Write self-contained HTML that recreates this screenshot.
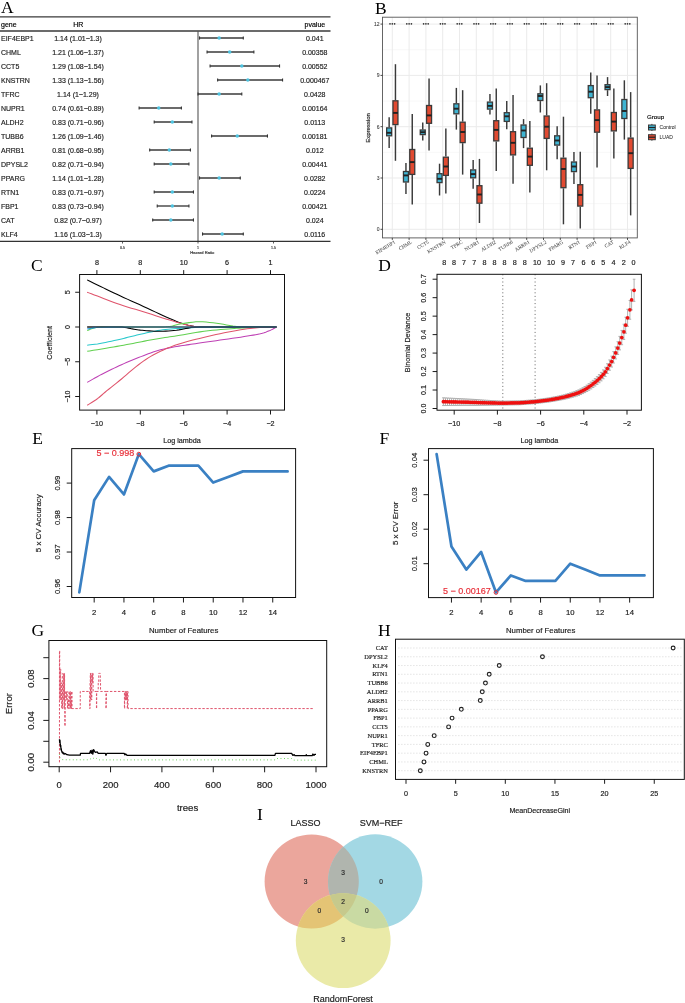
<!DOCTYPE html>
<html><head><meta charset="utf-8"><style>
html,body{margin:0;padding:0;background:#fff;}
body{width:685px;height:1003px;overflow:hidden;font-family:"Liberation Sans", sans-serif;}
svg{display:block;will-change:transform;}
</style></head><body>
<svg width="685" height="1003" viewBox="0 0 685 1003">
<rect width="685" height="1003" fill="#fff"/>
<text x="1.00" y="12.70" font-size="17.5" text-anchor="start" fill="#000" font-family='"Liberation Serif", serif'>A</text>
<line x1="0.00" y1="16.90" x2="330.50" y2="16.90" stroke="#3a3a3a" stroke-width="1.4"/>
<line x1="0.00" y1="31.00" x2="330.50" y2="31.00" stroke="#3a3a3a" stroke-width="1.4"/>
<text x="1.00" y="26.60" font-size="7" text-anchor="start" fill="#000" stroke="#000" stroke-width="0.16" font-family='"Liberation Sans", sans-serif'>gene</text>
<text x="78.20" y="26.60" font-size="7" text-anchor="middle" fill="#000" stroke="#000" stroke-width="0.16" font-family='"Liberation Sans", sans-serif'>HR</text>
<text x="314.90" y="26.60" font-size="7" text-anchor="middle" fill="#000" stroke="#000" stroke-width="0.16" font-family='"Liberation Sans", sans-serif'>pvalue</text>
<line x1="198.00" y1="31.00" x2="198.00" y2="241.30" stroke="#555" stroke-width="1.1"/>
<text x="1.00" y="40.90" font-size="7" text-anchor="start" fill="#222" stroke="#222" stroke-width="0.16" font-family='"Liberation Sans", sans-serif'>EIF4EBP1</text>
<text x="78.00" y="40.90" font-size="7" text-anchor="middle" fill="#222" stroke="#222" stroke-width="0.16" font-family='"Liberation Sans", sans-serif'>1.14 (1.01−1.3)</text>
<text x="314.80" y="40.90" font-size="7" text-anchor="middle" fill="#222" stroke="#222" stroke-width="0.16" font-family='"Liberation Sans", sans-serif'>0.041</text>
<line x1="199.51" y1="38.00" x2="243.30" y2="38.00" stroke="#3a3a3a" stroke-width="1.35"/>
<line x1="199.51" y1="36.40" x2="199.51" y2="39.60" stroke="#333" stroke-width="1.1"/>
<line x1="243.30" y1="36.40" x2="243.30" y2="39.60" stroke="#333" stroke-width="1.1"/>
<circle cx="219.14" cy="38.00" r="1.75" fill="#4ec3e0"/>
<text x="1.00" y="54.90" font-size="7" text-anchor="start" fill="#222" stroke="#222" stroke-width="0.16" font-family='"Liberation Sans", sans-serif'>CHML</text>
<text x="78.00" y="54.90" font-size="7" text-anchor="middle" fill="#222" stroke="#222" stroke-width="0.16" font-family='"Liberation Sans", sans-serif'>1.21 (1.06−1.37)</text>
<text x="314.80" y="54.90" font-size="7" text-anchor="middle" fill="#222" stroke="#222" stroke-width="0.16" font-family='"Liberation Sans", sans-serif'>0.00358</text>
<line x1="207.06" y1="52.00" x2="253.87" y2="52.00" stroke="#3a3a3a" stroke-width="1.35"/>
<line x1="207.06" y1="50.40" x2="207.06" y2="53.60" stroke="#333" stroke-width="1.1"/>
<line x1="253.87" y1="50.40" x2="253.87" y2="53.60" stroke="#333" stroke-width="1.1"/>
<circle cx="229.71" cy="52.00" r="1.75" fill="#4ec3e0"/>
<text x="1.00" y="68.90" font-size="7" text-anchor="start" fill="#222" stroke="#222" stroke-width="0.16" font-family='"Liberation Sans", sans-serif'>CCT5</text>
<text x="78.00" y="68.90" font-size="7" text-anchor="middle" fill="#222" stroke="#222" stroke-width="0.16" font-family='"Liberation Sans", sans-serif'>1.29 (1.08−1.54)</text>
<text x="314.80" y="68.90" font-size="7" text-anchor="middle" fill="#222" stroke="#222" stroke-width="0.16" font-family='"Liberation Sans", sans-serif'>0.00552</text>
<line x1="210.08" y1="66.00" x2="279.54" y2="66.00" stroke="#3a3a3a" stroke-width="1.35"/>
<line x1="210.08" y1="64.40" x2="210.08" y2="67.60" stroke="#333" stroke-width="1.1"/>
<line x1="279.54" y1="64.40" x2="279.54" y2="67.60" stroke="#333" stroke-width="1.1"/>
<circle cx="241.79" cy="66.00" r="1.75" fill="#4ec3e0"/>
<text x="1.00" y="82.90" font-size="7" text-anchor="start" fill="#222" stroke="#222" stroke-width="0.16" font-family='"Liberation Sans", sans-serif'>KNSTRN</text>
<text x="78.00" y="82.90" font-size="7" text-anchor="middle" fill="#222" stroke="#222" stroke-width="0.16" font-family='"Liberation Sans", sans-serif'>1.33 (1.13−1.56)</text>
<text x="314.80" y="82.90" font-size="7" text-anchor="middle" fill="#222" stroke="#222" stroke-width="0.16" font-family='"Liberation Sans", sans-serif'>0.000467</text>
<line x1="217.63" y1="80.00" x2="282.56" y2="80.00" stroke="#3a3a3a" stroke-width="1.35"/>
<line x1="217.63" y1="78.40" x2="217.63" y2="81.60" stroke="#333" stroke-width="1.1"/>
<line x1="282.56" y1="78.40" x2="282.56" y2="81.60" stroke="#333" stroke-width="1.1"/>
<circle cx="247.83" cy="80.00" r="1.75" fill="#4ec3e0"/>
<text x="1.00" y="96.90" font-size="7" text-anchor="start" fill="#222" stroke="#222" stroke-width="0.16" font-family='"Liberation Sans", sans-serif'>TFRC</text>
<text x="78.00" y="96.90" font-size="7" text-anchor="middle" fill="#222" stroke="#222" stroke-width="0.16" font-family='"Liberation Sans", sans-serif'>1.14 (1−1.29)</text>
<text x="314.80" y="96.90" font-size="7" text-anchor="middle" fill="#222" stroke="#222" stroke-width="0.16" font-family='"Liberation Sans", sans-serif'>0.0428</text>
<line x1="198.00" y1="94.00" x2="241.79" y2="94.00" stroke="#3a3a3a" stroke-width="1.35"/>
<line x1="198.00" y1="92.40" x2="198.00" y2="95.60" stroke="#333" stroke-width="1.1"/>
<line x1="241.79" y1="92.40" x2="241.79" y2="95.60" stroke="#333" stroke-width="1.1"/>
<circle cx="219.14" cy="94.00" r="1.75" fill="#4ec3e0"/>
<text x="1.00" y="110.90" font-size="7" text-anchor="start" fill="#222" stroke="#222" stroke-width="0.16" font-family='"Liberation Sans", sans-serif'>NUPR1</text>
<text x="78.00" y="110.90" font-size="7" text-anchor="middle" fill="#222" stroke="#222" stroke-width="0.16" font-family='"Liberation Sans", sans-serif'>0.74 (0.61−0.89)</text>
<text x="314.80" y="110.90" font-size="7" text-anchor="middle" fill="#222" stroke="#222" stroke-width="0.16" font-family='"Liberation Sans", sans-serif'>0.00164</text>
<line x1="139.11" y1="108.00" x2="181.39" y2="108.00" stroke="#3a3a3a" stroke-width="1.35"/>
<line x1="139.11" y1="106.40" x2="139.11" y2="109.60" stroke="#333" stroke-width="1.1"/>
<line x1="181.39" y1="106.40" x2="181.39" y2="109.60" stroke="#333" stroke-width="1.1"/>
<circle cx="158.74" cy="108.00" r="1.75" fill="#4ec3e0"/>
<text x="1.00" y="124.90" font-size="7" text-anchor="start" fill="#222" stroke="#222" stroke-width="0.16" font-family='"Liberation Sans", sans-serif'>ALDH2</text>
<text x="78.00" y="124.90" font-size="7" text-anchor="middle" fill="#222" stroke="#222" stroke-width="0.16" font-family='"Liberation Sans", sans-serif'>0.83 (0.71−0.96)</text>
<text x="314.80" y="124.90" font-size="7" text-anchor="middle" fill="#222" stroke="#222" stroke-width="0.16" font-family='"Liberation Sans", sans-serif'>0.0113</text>
<line x1="154.21" y1="122.00" x2="191.96" y2="122.00" stroke="#3a3a3a" stroke-width="1.35"/>
<line x1="154.21" y1="120.40" x2="154.21" y2="123.60" stroke="#333" stroke-width="1.1"/>
<line x1="191.96" y1="120.40" x2="191.96" y2="123.60" stroke="#333" stroke-width="1.1"/>
<circle cx="172.33" cy="122.00" r="1.75" fill="#4ec3e0"/>
<text x="1.00" y="138.90" font-size="7" text-anchor="start" fill="#222" stroke="#222" stroke-width="0.16" font-family='"Liberation Sans", sans-serif'>TUBB6</text>
<text x="78.00" y="138.90" font-size="7" text-anchor="middle" fill="#222" stroke="#222" stroke-width="0.16" font-family='"Liberation Sans", sans-serif'>1.26 (1.09−1.46)</text>
<text x="314.80" y="138.90" font-size="7" text-anchor="middle" fill="#222" stroke="#222" stroke-width="0.16" font-family='"Liberation Sans", sans-serif'>0.00181</text>
<line x1="211.59" y1="136.00" x2="267.46" y2="136.00" stroke="#3a3a3a" stroke-width="1.35"/>
<line x1="211.59" y1="134.40" x2="211.59" y2="137.60" stroke="#333" stroke-width="1.1"/>
<line x1="267.46" y1="134.40" x2="267.46" y2="137.60" stroke="#333" stroke-width="1.1"/>
<circle cx="237.26" cy="136.00" r="1.75" fill="#4ec3e0"/>
<text x="1.00" y="152.90" font-size="7" text-anchor="start" fill="#222" stroke="#222" stroke-width="0.16" font-family='"Liberation Sans", sans-serif'>ARRB1</text>
<text x="78.00" y="152.90" font-size="7" text-anchor="middle" fill="#222" stroke="#222" stroke-width="0.16" font-family='"Liberation Sans", sans-serif'>0.81 (0.68−0.95)</text>
<text x="314.80" y="152.90" font-size="7" text-anchor="middle" fill="#222" stroke="#222" stroke-width="0.16" font-family='"Liberation Sans", sans-serif'>0.012</text>
<line x1="149.68" y1="150.00" x2="190.45" y2="150.00" stroke="#3a3a3a" stroke-width="1.35"/>
<line x1="149.68" y1="148.40" x2="149.68" y2="151.60" stroke="#333" stroke-width="1.1"/>
<line x1="190.45" y1="148.40" x2="190.45" y2="151.60" stroke="#333" stroke-width="1.1"/>
<circle cx="169.31" cy="150.00" r="1.75" fill="#4ec3e0"/>
<text x="1.00" y="166.90" font-size="7" text-anchor="start" fill="#222" stroke="#222" stroke-width="0.16" font-family='"Liberation Sans", sans-serif'>DPYSL2</text>
<text x="78.00" y="166.90" font-size="7" text-anchor="middle" fill="#222" stroke="#222" stroke-width="0.16" font-family='"Liberation Sans", sans-serif'>0.82 (0.71−0.94)</text>
<text x="314.80" y="166.90" font-size="7" text-anchor="middle" fill="#222" stroke="#222" stroke-width="0.16" font-family='"Liberation Sans", sans-serif'>0.00441</text>
<line x1="154.21" y1="164.00" x2="188.94" y2="164.00" stroke="#3a3a3a" stroke-width="1.35"/>
<line x1="154.21" y1="162.40" x2="154.21" y2="165.60" stroke="#333" stroke-width="1.1"/>
<line x1="188.94" y1="162.40" x2="188.94" y2="165.60" stroke="#333" stroke-width="1.1"/>
<circle cx="170.82" cy="164.00" r="1.75" fill="#4ec3e0"/>
<text x="1.00" y="180.90" font-size="7" text-anchor="start" fill="#222" stroke="#222" stroke-width="0.16" font-family='"Liberation Sans", sans-serif'>PPARG</text>
<text x="78.00" y="180.90" font-size="7" text-anchor="middle" fill="#222" stroke="#222" stroke-width="0.16" font-family='"Liberation Sans", sans-serif'>1.14 (1.01−1.28)</text>
<text x="314.80" y="180.90" font-size="7" text-anchor="middle" fill="#222" stroke="#222" stroke-width="0.16" font-family='"Liberation Sans", sans-serif'>0.0282</text>
<line x1="199.51" y1="178.00" x2="240.28" y2="178.00" stroke="#3a3a3a" stroke-width="1.35"/>
<line x1="199.51" y1="176.40" x2="199.51" y2="179.60" stroke="#333" stroke-width="1.1"/>
<line x1="240.28" y1="176.40" x2="240.28" y2="179.60" stroke="#333" stroke-width="1.1"/>
<circle cx="219.14" cy="178.00" r="1.75" fill="#4ec3e0"/>
<text x="1.00" y="194.90" font-size="7" text-anchor="start" fill="#222" stroke="#222" stroke-width="0.16" font-family='"Liberation Sans", sans-serif'>RTN1</text>
<text x="78.00" y="194.90" font-size="7" text-anchor="middle" fill="#222" stroke="#222" stroke-width="0.16" font-family='"Liberation Sans", sans-serif'>0.83 (0.71−0.97)</text>
<text x="314.80" y="194.90" font-size="7" text-anchor="middle" fill="#222" stroke="#222" stroke-width="0.16" font-family='"Liberation Sans", sans-serif'>0.0224</text>
<line x1="154.21" y1="192.00" x2="193.47" y2="192.00" stroke="#3a3a3a" stroke-width="1.35"/>
<line x1="154.21" y1="190.40" x2="154.21" y2="193.60" stroke="#333" stroke-width="1.1"/>
<line x1="193.47" y1="190.40" x2="193.47" y2="193.60" stroke="#333" stroke-width="1.1"/>
<circle cx="172.33" cy="192.00" r="1.75" fill="#4ec3e0"/>
<text x="1.00" y="208.90" font-size="7" text-anchor="start" fill="#222" stroke="#222" stroke-width="0.16" font-family='"Liberation Sans", sans-serif'>FBP1</text>
<text x="78.00" y="208.90" font-size="7" text-anchor="middle" fill="#222" stroke="#222" stroke-width="0.16" font-family='"Liberation Sans", sans-serif'>0.83 (0.73−0.94)</text>
<text x="314.80" y="208.90" font-size="7" text-anchor="middle" fill="#222" stroke="#222" stroke-width="0.16" font-family='"Liberation Sans", sans-serif'>0.00421</text>
<line x1="157.23" y1="206.00" x2="188.94" y2="206.00" stroke="#3a3a3a" stroke-width="1.35"/>
<line x1="157.23" y1="204.40" x2="157.23" y2="207.60" stroke="#333" stroke-width="1.1"/>
<line x1="188.94" y1="204.40" x2="188.94" y2="207.60" stroke="#333" stroke-width="1.1"/>
<circle cx="172.33" cy="206.00" r="1.75" fill="#4ec3e0"/>
<text x="1.00" y="222.90" font-size="7" text-anchor="start" fill="#222" stroke="#222" stroke-width="0.16" font-family='"Liberation Sans", sans-serif'>CAT</text>
<text x="78.00" y="222.90" font-size="7" text-anchor="middle" fill="#222" stroke="#222" stroke-width="0.16" font-family='"Liberation Sans", sans-serif'>0.82 (0.7−0.97)</text>
<text x="314.80" y="222.90" font-size="7" text-anchor="middle" fill="#222" stroke="#222" stroke-width="0.16" font-family='"Liberation Sans", sans-serif'>0.024</text>
<line x1="152.70" y1="220.00" x2="193.47" y2="220.00" stroke="#3a3a3a" stroke-width="1.35"/>
<line x1="152.70" y1="218.40" x2="152.70" y2="221.60" stroke="#333" stroke-width="1.1"/>
<line x1="193.47" y1="218.40" x2="193.47" y2="221.60" stroke="#333" stroke-width="1.1"/>
<circle cx="170.82" cy="220.00" r="1.75" fill="#4ec3e0"/>
<text x="1.00" y="236.90" font-size="7" text-anchor="start" fill="#222" stroke="#222" stroke-width="0.16" font-family='"Liberation Sans", sans-serif'>KLF4</text>
<text x="78.00" y="236.90" font-size="7" text-anchor="middle" fill="#222" stroke="#222" stroke-width="0.16" font-family='"Liberation Sans", sans-serif'>1.16 (1.03−1.3)</text>
<text x="314.80" y="236.90" font-size="7" text-anchor="middle" fill="#222" stroke="#222" stroke-width="0.16" font-family='"Liberation Sans", sans-serif'>0.0116</text>
<line x1="202.53" y1="234.00" x2="243.30" y2="234.00" stroke="#3a3a3a" stroke-width="1.35"/>
<line x1="202.53" y1="232.40" x2="202.53" y2="235.60" stroke="#333" stroke-width="1.1"/>
<line x1="243.30" y1="232.40" x2="243.30" y2="235.60" stroke="#333" stroke-width="1.1"/>
<circle cx="222.16" cy="234.00" r="1.75" fill="#4ec3e0"/>
<line x1="0.00" y1="241.30" x2="330.50" y2="241.30" stroke="#333" stroke-width="1.3"/>
<line x1="122.50" y1="241.30" x2="122.50" y2="243.50" stroke="#333" stroke-width="0.8"/>
<text x="122.50" y="249.00" font-size="3.6" text-anchor="middle" fill="#444" stroke="#444" stroke-width="0.18" font-family='"Liberation Sans", sans-serif'>0.5</text>
<line x1="198.00" y1="241.30" x2="198.00" y2="243.50" stroke="#333" stroke-width="0.8"/>
<text x="198.00" y="249.00" font-size="3.6" text-anchor="middle" fill="#444" stroke="#444" stroke-width="0.18" font-family='"Liberation Sans", sans-serif'>1</text>
<line x1="273.50" y1="241.30" x2="273.50" y2="243.50" stroke="#333" stroke-width="0.8"/>
<text x="273.50" y="249.00" font-size="3.6" text-anchor="middle" fill="#444" stroke="#444" stroke-width="0.18" font-family='"Liberation Sans", sans-serif'>1.5</text>
<text x="202.30" y="253.90" font-size="4.1" text-anchor="middle" fill="#333" stroke="#333" stroke-width="0.18" font-family='"Liberation Sans", sans-serif'>Hazard Ratio</text>
<text x="375.00" y="13.80" font-size="17.5" text-anchor="start" fill="#000" font-family='"Liberation Serif", serif'>B</text>
<line x1="382.50" y1="203.65" x2="637.30" y2="203.65" stroke="#f2f2f2" stroke-width="0.6"/>
<line x1="382.50" y1="152.35" x2="637.30" y2="152.35" stroke="#f2f2f2" stroke-width="0.6"/>
<line x1="382.50" y1="101.05" x2="637.30" y2="101.05" stroke="#f2f2f2" stroke-width="0.6"/>
<line x1="382.50" y1="49.75" x2="637.30" y2="49.75" stroke="#f2f2f2" stroke-width="0.6"/>
<line x1="382.50" y1="229.30" x2="637.30" y2="229.30" stroke="#ebebeb" stroke-width="1.0"/>
<line x1="382.50" y1="178.00" x2="637.30" y2="178.00" stroke="#ebebeb" stroke-width="1.0"/>
<line x1="382.50" y1="126.70" x2="637.30" y2="126.70" stroke="#ebebeb" stroke-width="1.0"/>
<line x1="382.50" y1="75.40" x2="637.30" y2="75.40" stroke="#ebebeb" stroke-width="1.0"/>
<line x1="382.50" y1="24.10" x2="637.30" y2="24.10" stroke="#ebebeb" stroke-width="1.0"/>
<line x1="392.30" y1="17.20" x2="392.30" y2="237.90" stroke="#ebebeb" stroke-width="1.0"/>
<line x1="409.10" y1="17.20" x2="409.10" y2="237.90" stroke="#ebebeb" stroke-width="1.0"/>
<line x1="425.90" y1="17.20" x2="425.90" y2="237.90" stroke="#ebebeb" stroke-width="1.0"/>
<line x1="442.70" y1="17.20" x2="442.70" y2="237.90" stroke="#ebebeb" stroke-width="1.0"/>
<line x1="459.50" y1="17.20" x2="459.50" y2="237.90" stroke="#ebebeb" stroke-width="1.0"/>
<line x1="476.30" y1="17.20" x2="476.30" y2="237.90" stroke="#ebebeb" stroke-width="1.0"/>
<line x1="493.10" y1="17.20" x2="493.10" y2="237.90" stroke="#ebebeb" stroke-width="1.0"/>
<line x1="509.90" y1="17.20" x2="509.90" y2="237.90" stroke="#ebebeb" stroke-width="1.0"/>
<line x1="526.70" y1="17.20" x2="526.70" y2="237.90" stroke="#ebebeb" stroke-width="1.0"/>
<line x1="543.50" y1="17.20" x2="543.50" y2="237.90" stroke="#ebebeb" stroke-width="1.0"/>
<line x1="560.30" y1="17.20" x2="560.30" y2="237.90" stroke="#ebebeb" stroke-width="1.0"/>
<line x1="577.10" y1="17.20" x2="577.10" y2="237.90" stroke="#ebebeb" stroke-width="1.0"/>
<line x1="593.90" y1="17.20" x2="593.90" y2="237.90" stroke="#ebebeb" stroke-width="1.0"/>
<line x1="610.70" y1="17.20" x2="610.70" y2="237.90" stroke="#ebebeb" stroke-width="1.0"/>
<line x1="627.50" y1="17.20" x2="627.50" y2="237.90" stroke="#ebebeb" stroke-width="1.0"/>
<line x1="389.15" y1="117.20" x2="389.15" y2="127.30" stroke="#3a3a3a" stroke-width="1.45"/>
<line x1="389.15" y1="136.40" x2="389.15" y2="148.10" stroke="#3a3a3a" stroke-width="1.45"/>
<rect x="386.65" y="127.90" width="5.00" height="7.90" fill="#3fb4d2" stroke="#3a3a3a" stroke-width="1.3"/>
<line x1="386.65" y1="132.80" x2="391.65" y2="132.80" stroke="#222" stroke-width="1.9"/>
<line x1="395.45" y1="64.20" x2="395.45" y2="100.20" stroke="#3a3a3a" stroke-width="1.45"/>
<line x1="395.45" y1="125.20" x2="395.45" y2="160.80" stroke="#3a3a3a" stroke-width="1.45"/>
<rect x="392.95" y="100.80" width="5.00" height="23.80" fill="#e14a31" stroke="#3a3a3a" stroke-width="1.3"/>
<line x1="392.95" y1="112.90" x2="397.95" y2="112.90" stroke="#222" stroke-width="1.9"/>
<circle cx="390.00" cy="23.8" r="0.85" fill="#333"/>
<circle cx="392.30" cy="23.8" r="0.85" fill="#333"/>
<circle cx="394.60" cy="23.8" r="0.85" fill="#333"/>
<line x1="405.95" y1="163.10" x2="405.95" y2="170.90" stroke="#3a3a3a" stroke-width="1.45"/>
<line x1="405.95" y1="182.60" x2="405.95" y2="194.00" stroke="#3a3a3a" stroke-width="1.45"/>
<rect x="403.45" y="171.50" width="5.00" height="10.50" fill="#3fb4d2" stroke="#3a3a3a" stroke-width="1.3"/>
<line x1="403.45" y1="175.40" x2="408.45" y2="175.40" stroke="#222" stroke-width="1.9"/>
<line x1="412.25" y1="114.00" x2="412.25" y2="148.90" stroke="#3a3a3a" stroke-width="1.45"/>
<line x1="412.25" y1="175.00" x2="412.25" y2="204.40" stroke="#3a3a3a" stroke-width="1.45"/>
<rect x="409.75" y="149.50" width="5.00" height="24.90" fill="#e14a31" stroke="#3a3a3a" stroke-width="1.3"/>
<line x1="409.75" y1="162.10" x2="414.75" y2="162.10" stroke="#222" stroke-width="1.9"/>
<circle cx="406.80" cy="23.8" r="0.85" fill="#333"/>
<circle cx="409.10" cy="23.8" r="0.85" fill="#333"/>
<circle cx="411.40" cy="23.8" r="0.85" fill="#333"/>
<line x1="422.75" y1="122.60" x2="422.75" y2="129.40" stroke="#3a3a3a" stroke-width="1.45"/>
<line x1="422.75" y1="135.20" x2="422.75" y2="140.50" stroke="#3a3a3a" stroke-width="1.45"/>
<rect x="420.25" y="130.00" width="5.00" height="4.60" fill="#3fb4d2" stroke="#3a3a3a" stroke-width="1.3"/>
<line x1="420.25" y1="132.20" x2="425.25" y2="132.20" stroke="#222" stroke-width="1.9"/>
<line x1="429.05" y1="78.40" x2="429.05" y2="104.90" stroke="#3a3a3a" stroke-width="1.45"/>
<line x1="429.05" y1="123.90" x2="429.05" y2="150.40" stroke="#3a3a3a" stroke-width="1.45"/>
<rect x="426.55" y="105.50" width="5.00" height="17.80" fill="#e14a31" stroke="#3a3a3a" stroke-width="1.3"/>
<line x1="426.55" y1="115.40" x2="431.55" y2="115.40" stroke="#222" stroke-width="1.9"/>
<circle cx="423.60" cy="23.8" r="0.85" fill="#333"/>
<circle cx="425.90" cy="23.8" r="0.85" fill="#333"/>
<circle cx="428.20" cy="23.8" r="0.85" fill="#333"/>
<line x1="439.55" y1="163.70" x2="439.55" y2="173.10" stroke="#3a3a3a" stroke-width="1.45"/>
<line x1="439.55" y1="183.20" x2="439.55" y2="195.50" stroke="#3a3a3a" stroke-width="1.45"/>
<rect x="437.05" y="173.70" width="5.00" height="8.90" fill="#3fb4d2" stroke="#3a3a3a" stroke-width="1.3"/>
<line x1="437.05" y1="178.80" x2="442.05" y2="178.80" stroke="#222" stroke-width="1.9"/>
<line x1="445.85" y1="128.60" x2="445.85" y2="156.60" stroke="#3a3a3a" stroke-width="1.45"/>
<line x1="445.85" y1="176.00" x2="445.85" y2="193.40" stroke="#3a3a3a" stroke-width="1.45"/>
<rect x="443.35" y="157.20" width="5.00" height="18.20" fill="#e14a31" stroke="#3a3a3a" stroke-width="1.3"/>
<line x1="443.35" y1="166.50" x2="448.35" y2="166.50" stroke="#222" stroke-width="1.9"/>
<circle cx="440.40" cy="23.8" r="0.85" fill="#333"/>
<circle cx="442.70" cy="23.8" r="0.85" fill="#333"/>
<circle cx="445.00" cy="23.8" r="0.85" fill="#333"/>
<line x1="456.35" y1="87.90" x2="456.35" y2="103.20" stroke="#3a3a3a" stroke-width="1.45"/>
<line x1="456.35" y1="114.40" x2="456.35" y2="129.60" stroke="#3a3a3a" stroke-width="1.45"/>
<rect x="453.85" y="103.80" width="5.00" height="10.00" fill="#3fb4d2" stroke="#3a3a3a" stroke-width="1.3"/>
<line x1="453.85" y1="108.70" x2="458.85" y2="108.70" stroke="#222" stroke-width="1.9"/>
<line x1="462.65" y1="90.20" x2="462.65" y2="121.60" stroke="#3a3a3a" stroke-width="1.45"/>
<line x1="462.65" y1="143.20" x2="462.65" y2="174.60" stroke="#3a3a3a" stroke-width="1.45"/>
<rect x="460.15" y="122.20" width="5.00" height="20.40" fill="#e14a31" stroke="#3a3a3a" stroke-width="1.3"/>
<line x1="460.15" y1="132.00" x2="465.15" y2="132.00" stroke="#222" stroke-width="1.9"/>
<circle cx="457.20" cy="23.8" r="0.85" fill="#333"/>
<circle cx="459.50" cy="23.8" r="0.85" fill="#333"/>
<circle cx="461.80" cy="23.8" r="0.85" fill="#333"/>
<line x1="473.15" y1="159.90" x2="473.15" y2="169.30" stroke="#3a3a3a" stroke-width="1.45"/>
<line x1="473.15" y1="178.40" x2="473.15" y2="188.70" stroke="#3a3a3a" stroke-width="1.45"/>
<rect x="470.65" y="169.90" width="5.00" height="7.90" fill="#3fb4d2" stroke="#3a3a3a" stroke-width="1.3"/>
<line x1="470.65" y1="174.10" x2="475.65" y2="174.10" stroke="#222" stroke-width="1.9"/>
<line x1="479.45" y1="158.90" x2="479.45" y2="185.10" stroke="#3a3a3a" stroke-width="1.45"/>
<line x1="479.45" y1="203.80" x2="479.45" y2="223.00" stroke="#3a3a3a" stroke-width="1.45"/>
<rect x="476.95" y="185.70" width="5.00" height="17.50" fill="#e14a31" stroke="#3a3a3a" stroke-width="1.3"/>
<line x1="476.95" y1="194.50" x2="481.95" y2="194.50" stroke="#222" stroke-width="1.9"/>
<circle cx="474.00" cy="23.8" r="0.85" fill="#333"/>
<circle cx="476.30" cy="23.8" r="0.85" fill="#333"/>
<circle cx="478.60" cy="23.8" r="0.85" fill="#333"/>
<line x1="489.95" y1="94.10" x2="489.95" y2="101.50" stroke="#3a3a3a" stroke-width="1.45"/>
<line x1="489.95" y1="109.70" x2="489.95" y2="114.40" stroke="#3a3a3a" stroke-width="1.45"/>
<rect x="487.45" y="102.10" width="5.00" height="7.00" fill="#3fb4d2" stroke="#3a3a3a" stroke-width="1.3"/>
<line x1="487.45" y1="105.90" x2="492.45" y2="105.90" stroke="#222" stroke-width="1.9"/>
<line x1="496.25" y1="88.50" x2="496.25" y2="120.10" stroke="#3a3a3a" stroke-width="1.45"/>
<line x1="496.25" y1="141.50" x2="496.25" y2="170.90" stroke="#3a3a3a" stroke-width="1.45"/>
<rect x="493.75" y="120.70" width="5.00" height="20.20" fill="#e14a31" stroke="#3a3a3a" stroke-width="1.3"/>
<line x1="493.75" y1="129.90" x2="498.75" y2="129.90" stroke="#222" stroke-width="1.9"/>
<circle cx="490.80" cy="23.8" r="0.85" fill="#333"/>
<circle cx="493.10" cy="23.8" r="0.85" fill="#333"/>
<circle cx="495.40" cy="23.8" r="0.85" fill="#333"/>
<line x1="506.75" y1="101.10" x2="506.75" y2="112.10" stroke="#3a3a3a" stroke-width="1.45"/>
<line x1="506.75" y1="122.00" x2="506.75" y2="129.20" stroke="#3a3a3a" stroke-width="1.45"/>
<rect x="504.25" y="112.70" width="5.00" height="8.70" fill="#3fb4d2" stroke="#3a3a3a" stroke-width="1.3"/>
<line x1="504.25" y1="116.30" x2="509.25" y2="116.30" stroke="#222" stroke-width="1.9"/>
<line x1="513.05" y1="95.10" x2="513.05" y2="131.10" stroke="#3a3a3a" stroke-width="1.45"/>
<line x1="513.05" y1="155.50" x2="513.05" y2="183.70" stroke="#3a3a3a" stroke-width="1.45"/>
<rect x="510.55" y="131.70" width="5.00" height="23.20" fill="#e14a31" stroke="#3a3a3a" stroke-width="1.3"/>
<line x1="510.55" y1="142.80" x2="515.55" y2="142.80" stroke="#222" stroke-width="1.9"/>
<circle cx="507.60" cy="23.8" r="0.85" fill="#333"/>
<circle cx="509.90" cy="23.8" r="0.85" fill="#333"/>
<circle cx="512.20" cy="23.8" r="0.85" fill="#333"/>
<line x1="523.55" y1="119.10" x2="523.55" y2="124.40" stroke="#3a3a3a" stroke-width="1.45"/>
<line x1="523.55" y1="138.10" x2="523.55" y2="148.10" stroke="#3a3a3a" stroke-width="1.45"/>
<rect x="521.05" y="125.00" width="5.00" height="12.50" fill="#3fb4d2" stroke="#3a3a3a" stroke-width="1.3"/>
<line x1="521.05" y1="130.50" x2="526.05" y2="130.50" stroke="#222" stroke-width="1.9"/>
<line x1="529.85" y1="121.00" x2="529.85" y2="147.60" stroke="#3a3a3a" stroke-width="1.45"/>
<line x1="529.85" y1="165.90" x2="529.85" y2="192.60" stroke="#3a3a3a" stroke-width="1.45"/>
<rect x="527.35" y="148.20" width="5.00" height="17.10" fill="#e14a31" stroke="#3a3a3a" stroke-width="1.3"/>
<line x1="527.35" y1="156.60" x2="532.35" y2="156.60" stroke="#222" stroke-width="1.9"/>
<circle cx="524.40" cy="23.8" r="0.85" fill="#333"/>
<circle cx="526.70" cy="23.8" r="0.85" fill="#333"/>
<circle cx="529.00" cy="23.8" r="0.85" fill="#333"/>
<line x1="540.35" y1="85.40" x2="540.35" y2="93.20" stroke="#3a3a3a" stroke-width="1.45"/>
<line x1="540.35" y1="101.10" x2="540.35" y2="112.50" stroke="#3a3a3a" stroke-width="1.45"/>
<rect x="537.85" y="93.80" width="5.00" height="6.70" fill="#3fb4d2" stroke="#3a3a3a" stroke-width="1.3"/>
<line x1="537.85" y1="96.00" x2="542.85" y2="96.00" stroke="#222" stroke-width="1.9"/>
<line x1="546.65" y1="83.20" x2="546.65" y2="115.40" stroke="#3a3a3a" stroke-width="1.45"/>
<line x1="546.65" y1="139.00" x2="546.65" y2="170.30" stroke="#3a3a3a" stroke-width="1.45"/>
<rect x="544.15" y="116.00" width="5.00" height="22.40" fill="#e14a31" stroke="#3a3a3a" stroke-width="1.3"/>
<line x1="544.15" y1="126.70" x2="549.15" y2="126.70" stroke="#222" stroke-width="1.9"/>
<circle cx="541.20" cy="23.8" r="0.85" fill="#333"/>
<circle cx="543.50" cy="23.8" r="0.85" fill="#333"/>
<circle cx="545.80" cy="23.8" r="0.85" fill="#333"/>
<line x1="557.15" y1="126.20" x2="557.15" y2="135.20" stroke="#3a3a3a" stroke-width="1.45"/>
<line x1="557.15" y1="145.70" x2="557.15" y2="159.30" stroke="#3a3a3a" stroke-width="1.45"/>
<rect x="554.65" y="135.80" width="5.00" height="9.30" fill="#3fb4d2" stroke="#3a3a3a" stroke-width="1.3"/>
<line x1="554.65" y1="140.50" x2="559.65" y2="140.50" stroke="#222" stroke-width="1.9"/>
<line x1="563.45" y1="116.70" x2="563.45" y2="157.60" stroke="#3a3a3a" stroke-width="1.45"/>
<line x1="563.45" y1="188.30" x2="563.45" y2="224.30" stroke="#3a3a3a" stroke-width="1.45"/>
<rect x="560.95" y="158.20" width="5.00" height="29.50" fill="#e14a31" stroke="#3a3a3a" stroke-width="1.3"/>
<line x1="560.95" y1="169.00" x2="565.95" y2="169.00" stroke="#222" stroke-width="1.9"/>
<circle cx="558.00" cy="23.8" r="0.85" fill="#333"/>
<circle cx="560.30" cy="23.8" r="0.85" fill="#333"/>
<circle cx="562.60" cy="23.8" r="0.85" fill="#333"/>
<line x1="573.95" y1="151.90" x2="573.95" y2="161.40" stroke="#3a3a3a" stroke-width="1.45"/>
<line x1="573.95" y1="172.20" x2="573.95" y2="183.90" stroke="#3a3a3a" stroke-width="1.45"/>
<rect x="571.45" y="162.00" width="5.00" height="9.60" fill="#3fb4d2" stroke="#3a3a3a" stroke-width="1.3"/>
<line x1="571.45" y1="166.50" x2="576.45" y2="166.50" stroke="#222" stroke-width="1.9"/>
<line x1="580.25" y1="151.70" x2="580.25" y2="184.10" stroke="#3a3a3a" stroke-width="1.45"/>
<line x1="580.25" y1="206.70" x2="580.25" y2="228.60" stroke="#3a3a3a" stroke-width="1.45"/>
<rect x="577.75" y="184.70" width="5.00" height="21.40" fill="#e14a31" stroke="#3a3a3a" stroke-width="1.3"/>
<line x1="577.75" y1="194.90" x2="582.75" y2="194.90" stroke="#222" stroke-width="1.9"/>
<circle cx="574.80" cy="23.8" r="0.85" fill="#333"/>
<circle cx="577.10" cy="23.8" r="0.85" fill="#333"/>
<circle cx="579.40" cy="23.8" r="0.85" fill="#333"/>
<line x1="590.75" y1="72.40" x2="590.75" y2="85.00" stroke="#3a3a3a" stroke-width="1.45"/>
<line x1="590.75" y1="98.30" x2="590.75" y2="113.80" stroke="#3a3a3a" stroke-width="1.45"/>
<rect x="588.25" y="85.60" width="5.00" height="12.10" fill="#3fb4d2" stroke="#3a3a3a" stroke-width="1.3"/>
<line x1="588.25" y1="91.70" x2="593.25" y2="91.70" stroke="#222" stroke-width="1.9"/>
<line x1="597.05" y1="75.60" x2="597.05" y2="109.30" stroke="#3a3a3a" stroke-width="1.45"/>
<line x1="597.05" y1="132.80" x2="597.05" y2="167.40" stroke="#3a3a3a" stroke-width="1.45"/>
<rect x="594.55" y="109.90" width="5.00" height="22.30" fill="#e14a31" stroke="#3a3a3a" stroke-width="1.3"/>
<line x1="594.55" y1="120.10" x2="599.55" y2="120.10" stroke="#222" stroke-width="1.9"/>
<circle cx="591.60" cy="23.8" r="0.85" fill="#333"/>
<circle cx="593.90" cy="23.8" r="0.85" fill="#333"/>
<circle cx="596.20" cy="23.8" r="0.85" fill="#333"/>
<line x1="607.55" y1="77.10" x2="607.55" y2="84.10" stroke="#3a3a3a" stroke-width="1.45"/>
<line x1="607.55" y1="90.20" x2="607.55" y2="96.00" stroke="#3a3a3a" stroke-width="1.45"/>
<rect x="605.05" y="84.70" width="5.00" height="4.90" fill="#3fb4d2" stroke="#3a3a3a" stroke-width="1.3"/>
<line x1="605.05" y1="87.10" x2="610.05" y2="87.10" stroke="#222" stroke-width="1.9"/>
<line x1="613.85" y1="88.50" x2="613.85" y2="111.90" stroke="#3a3a3a" stroke-width="1.45"/>
<line x1="613.85" y1="131.50" x2="613.85" y2="158.40" stroke="#3a3a3a" stroke-width="1.45"/>
<rect x="611.35" y="112.50" width="5.00" height="18.40" fill="#e14a31" stroke="#3a3a3a" stroke-width="1.3"/>
<line x1="611.35" y1="121.60" x2="616.35" y2="121.60" stroke="#222" stroke-width="1.9"/>
<circle cx="608.40" cy="23.8" r="0.85" fill="#333"/>
<circle cx="610.70" cy="23.8" r="0.85" fill="#333"/>
<circle cx="613.00" cy="23.8" r="0.85" fill="#333"/>
<line x1="624.35" y1="80.30" x2="624.35" y2="98.90" stroke="#3a3a3a" stroke-width="1.45"/>
<line x1="624.35" y1="119.10" x2="624.35" y2="139.60" stroke="#3a3a3a" stroke-width="1.45"/>
<rect x="621.85" y="99.50" width="5.00" height="19.00" fill="#3fb4d2" stroke="#3a3a3a" stroke-width="1.3"/>
<line x1="621.85" y1="111.00" x2="626.85" y2="111.00" stroke="#222" stroke-width="1.9"/>
<line x1="630.65" y1="92.10" x2="630.65" y2="137.50" stroke="#3a3a3a" stroke-width="1.45"/>
<line x1="630.65" y1="169.00" x2="630.65" y2="215.40" stroke="#3a3a3a" stroke-width="1.45"/>
<rect x="628.15" y="138.10" width="5.00" height="30.30" fill="#e14a31" stroke="#3a3a3a" stroke-width="1.3"/>
<line x1="628.15" y1="153.20" x2="633.15" y2="153.20" stroke="#222" stroke-width="1.9"/>
<circle cx="625.20" cy="23.8" r="0.85" fill="#333"/>
<circle cx="627.50" cy="23.8" r="0.85" fill="#333"/>
<circle cx="629.80" cy="23.8" r="0.85" fill="#333"/>
<rect x="382.50" y="17.20" width="254.80" height="220.70" fill="none" stroke="#555555" stroke-width="0.9"/>
<line x1="380.50" y1="229.30" x2="382.50" y2="229.30" stroke="#333" stroke-width="0.9"/>
<text x="379.50" y="231.10" font-size="5.0" text-anchor="end" fill="#444" stroke="#444" stroke-width="0.1" font-family='"Liberation Sans", sans-serif'>0</text>
<line x1="380.50" y1="178.00" x2="382.50" y2="178.00" stroke="#333" stroke-width="0.9"/>
<text x="379.50" y="179.80" font-size="5.0" text-anchor="end" fill="#444" stroke="#444" stroke-width="0.1" font-family='"Liberation Sans", sans-serif'>3</text>
<line x1="380.50" y1="126.70" x2="382.50" y2="126.70" stroke="#333" stroke-width="0.9"/>
<text x="379.50" y="128.50" font-size="5.0" text-anchor="end" fill="#444" stroke="#444" stroke-width="0.1" font-family='"Liberation Sans", sans-serif'>6</text>
<line x1="380.50" y1="75.40" x2="382.50" y2="75.40" stroke="#333" stroke-width="0.9"/>
<text x="379.50" y="77.20" font-size="5.0" text-anchor="end" fill="#444" stroke="#444" stroke-width="0.1" font-family='"Liberation Sans", sans-serif'>9</text>
<line x1="380.50" y1="24.10" x2="382.50" y2="24.10" stroke="#333" stroke-width="0.9"/>
<text x="379.50" y="25.90" font-size="5.0" text-anchor="end" fill="#444" stroke="#444" stroke-width="0.1" font-family='"Liberation Sans", sans-serif'>12</text>
<line x1="392.30" y1="237.90" x2="392.30" y2="239.90" stroke="#333" stroke-width="0.9"/>
<text x="395.70" y="243.00" font-size="5.1" text-anchor="end" fill="#4a4a4a" stroke="#4a4a4a" stroke-width="0.05" font-family='"Liberation Serif", serif' transform="rotate(-31 395.70 243.00)">EIF4EBP1</text>
<line x1="409.10" y1="237.90" x2="409.10" y2="239.90" stroke="#333" stroke-width="0.9"/>
<text x="412.50" y="243.00" font-size="5.1" text-anchor="end" fill="#4a4a4a" stroke="#4a4a4a" stroke-width="0.05" font-family='"Liberation Serif", serif' transform="rotate(-31 412.50 243.00)">CHML</text>
<line x1="425.90" y1="237.90" x2="425.90" y2="239.90" stroke="#333" stroke-width="0.9"/>
<text x="429.30" y="243.00" font-size="5.1" text-anchor="end" fill="#4a4a4a" stroke="#4a4a4a" stroke-width="0.05" font-family='"Liberation Serif", serif' transform="rotate(-31 429.30 243.00)">CCT5</text>
<line x1="442.70" y1="237.90" x2="442.70" y2="239.90" stroke="#333" stroke-width="0.9"/>
<text x="446.10" y="243.00" font-size="5.1" text-anchor="end" fill="#4a4a4a" stroke="#4a4a4a" stroke-width="0.05" font-family='"Liberation Serif", serif' transform="rotate(-31 446.10 243.00)">KNSTRN</text>
<line x1="459.50" y1="237.90" x2="459.50" y2="239.90" stroke="#333" stroke-width="0.9"/>
<text x="462.90" y="243.00" font-size="5.1" text-anchor="end" fill="#4a4a4a" stroke="#4a4a4a" stroke-width="0.05" font-family='"Liberation Serif", serif' transform="rotate(-31 462.90 243.00)">TFRC</text>
<line x1="476.30" y1="237.90" x2="476.30" y2="239.90" stroke="#333" stroke-width="0.9"/>
<text x="479.70" y="243.00" font-size="5.1" text-anchor="end" fill="#4a4a4a" stroke="#4a4a4a" stroke-width="0.05" font-family='"Liberation Serif", serif' transform="rotate(-31 479.70 243.00)">NUPR1</text>
<line x1="493.10" y1="237.90" x2="493.10" y2="239.90" stroke="#333" stroke-width="0.9"/>
<text x="496.50" y="243.00" font-size="5.1" text-anchor="end" fill="#4a4a4a" stroke="#4a4a4a" stroke-width="0.05" font-family='"Liberation Serif", serif' transform="rotate(-31 496.50 243.00)">ALDH2</text>
<line x1="509.90" y1="237.90" x2="509.90" y2="239.90" stroke="#333" stroke-width="0.9"/>
<text x="513.30" y="243.00" font-size="5.1" text-anchor="end" fill="#4a4a4a" stroke="#4a4a4a" stroke-width="0.05" font-family='"Liberation Serif", serif' transform="rotate(-31 513.30 243.00)">TUBB6</text>
<line x1="526.70" y1="237.90" x2="526.70" y2="239.90" stroke="#333" stroke-width="0.9"/>
<text x="530.10" y="243.00" font-size="5.1" text-anchor="end" fill="#4a4a4a" stroke="#4a4a4a" stroke-width="0.05" font-family='"Liberation Serif", serif' transform="rotate(-31 530.10 243.00)">ARRB1</text>
<line x1="543.50" y1="237.90" x2="543.50" y2="239.90" stroke="#333" stroke-width="0.9"/>
<text x="546.90" y="243.00" font-size="5.1" text-anchor="end" fill="#4a4a4a" stroke="#4a4a4a" stroke-width="0.05" font-family='"Liberation Serif", serif' transform="rotate(-31 546.90 243.00)">DPYSL2</text>
<line x1="560.30" y1="237.90" x2="560.30" y2="239.90" stroke="#333" stroke-width="0.9"/>
<text x="563.70" y="243.00" font-size="5.1" text-anchor="end" fill="#4a4a4a" stroke="#4a4a4a" stroke-width="0.05" font-family='"Liberation Serif", serif' transform="rotate(-31 563.70 243.00)">PPARG</text>
<line x1="577.10" y1="237.90" x2="577.10" y2="239.90" stroke="#333" stroke-width="0.9"/>
<text x="580.50" y="243.00" font-size="5.1" text-anchor="end" fill="#4a4a4a" stroke="#4a4a4a" stroke-width="0.05" font-family='"Liberation Serif", serif' transform="rotate(-31 580.50 243.00)">RTN1</text>
<line x1="593.90" y1="237.90" x2="593.90" y2="239.90" stroke="#333" stroke-width="0.9"/>
<text x="597.30" y="243.00" font-size="5.1" text-anchor="end" fill="#4a4a4a" stroke="#4a4a4a" stroke-width="0.05" font-family='"Liberation Serif", serif' transform="rotate(-31 597.30 243.00)">FBP1</text>
<line x1="610.70" y1="237.90" x2="610.70" y2="239.90" stroke="#333" stroke-width="0.9"/>
<text x="614.10" y="243.00" font-size="5.1" text-anchor="end" fill="#4a4a4a" stroke="#4a4a4a" stroke-width="0.05" font-family='"Liberation Serif", serif' transform="rotate(-31 614.10 243.00)">CAT</text>
<line x1="627.50" y1="237.90" x2="627.50" y2="239.90" stroke="#333" stroke-width="0.9"/>
<text x="630.90" y="243.00" font-size="5.1" text-anchor="end" fill="#4a4a4a" stroke="#4a4a4a" stroke-width="0.05" font-family='"Liberation Serif", serif' transform="rotate(-31 630.90 243.00)">KLF4</text>
<text x="369.60" y="127.90" font-size="6" text-anchor="middle" fill="#222" stroke="#222" stroke-width="0.16" font-family='"Liberation Sans", sans-serif' transform="rotate(-90 369.60 127.90)">Expression</text>
<text x="647.00" y="119.40" font-size="6.2" text-anchor="start" fill="#111" stroke="#111" stroke-width="0.18" font-family='"Liberation Sans", sans-serif'>Group</text>
<rect x="648.50" y="125.00" width="6.80" height="5.00" fill="#3fb4d2" stroke="#3a3a3a" stroke-width="1.0"/>
<line x1="651.90" y1="123.90" x2="651.90" y2="125.00" stroke="#3a3a3a" stroke-width="1.0"/>
<line x1="651.90" y1="130.00" x2="651.90" y2="131.00" stroke="#3a3a3a" stroke-width="1.0"/>
<line x1="648.50" y1="127.50" x2="655.30" y2="127.50" stroke="#222" stroke-width="1.2"/>
<text x="659.60" y="129.40" font-size="5.0" text-anchor="start" fill="#222" stroke="#222" stroke-width="0.03" font-family='"Liberation Sans", sans-serif'>Control</text>
<rect x="648.50" y="134.70" width="6.80" height="5.00" fill="#e14a31" stroke="#3a3a3a" stroke-width="1.0"/>
<line x1="651.90" y1="133.60" x2="651.90" y2="134.70" stroke="#3a3a3a" stroke-width="1.0"/>
<line x1="651.90" y1="139.70" x2="651.90" y2="140.70" stroke="#3a3a3a" stroke-width="1.0"/>
<line x1="648.50" y1="137.20" x2="655.30" y2="137.20" stroke="#222" stroke-width="1.2"/>
<text x="659.60" y="139.10" font-size="5.0" text-anchor="start" fill="#222" stroke="#222" stroke-width="0.03" font-family='"Liberation Sans", sans-serif'>LUAD</text>
<text x="31.00" y="270.80" font-size="17.5" text-anchor="start" fill="#000" font-family='"Liberation Serif", serif'>C</text>
<line x1="96.90" y1="274.50" x2="96.90" y2="270.10" stroke="#000" stroke-width="0.9"/>
<text x="96.90" y="264.60" font-size="7.2" text-anchor="middle" fill="#222" stroke="#222" stroke-width="0.18" font-family='"Liberation Sans", sans-serif'>8</text>
<line x1="140.30" y1="274.50" x2="140.30" y2="270.10" stroke="#000" stroke-width="0.9"/>
<text x="140.30" y="264.60" font-size="7.2" text-anchor="middle" fill="#222" stroke="#222" stroke-width="0.18" font-family='"Liberation Sans", sans-serif'>8</text>
<line x1="183.70" y1="274.50" x2="183.70" y2="270.10" stroke="#000" stroke-width="0.9"/>
<text x="183.70" y="264.60" font-size="7.2" text-anchor="middle" fill="#222" stroke="#222" stroke-width="0.18" font-family='"Liberation Sans", sans-serif'>10</text>
<line x1="227.10" y1="274.50" x2="227.10" y2="270.10" stroke="#000" stroke-width="0.9"/>
<text x="227.10" y="264.60" font-size="7.2" text-anchor="middle" fill="#222" stroke="#222" stroke-width="0.18" font-family='"Liberation Sans", sans-serif'>6</text>
<line x1="270.50" y1="274.50" x2="270.50" y2="270.10" stroke="#000" stroke-width="0.9"/>
<text x="270.50" y="264.60" font-size="7.2" text-anchor="middle" fill="#222" stroke="#222" stroke-width="0.18" font-family='"Liberation Sans", sans-serif'>1</text>
<line x1="96.90" y1="410.10" x2="96.90" y2="414.50" stroke="#000" stroke-width="0.9"/>
<text x="96.90" y="426.00" font-size="7.2" text-anchor="middle" fill="#222" stroke="#222" stroke-width="0.18" font-family='"Liberation Sans", sans-serif'>−10</text>
<line x1="140.30" y1="410.10" x2="140.30" y2="414.50" stroke="#000" stroke-width="0.9"/>
<text x="140.30" y="426.00" font-size="7.2" text-anchor="middle" fill="#222" stroke="#222" stroke-width="0.18" font-family='"Liberation Sans", sans-serif'>−8</text>
<line x1="183.70" y1="410.10" x2="183.70" y2="414.50" stroke="#000" stroke-width="0.9"/>
<text x="183.70" y="426.00" font-size="7.2" text-anchor="middle" fill="#222" stroke="#222" stroke-width="0.18" font-family='"Liberation Sans", sans-serif'>−6</text>
<line x1="227.10" y1="410.10" x2="227.10" y2="414.50" stroke="#000" stroke-width="0.9"/>
<text x="227.10" y="426.00" font-size="7.2" text-anchor="middle" fill="#222" stroke="#222" stroke-width="0.18" font-family='"Liberation Sans", sans-serif'>−4</text>
<line x1="270.50" y1="410.10" x2="270.50" y2="414.50" stroke="#000" stroke-width="0.9"/>
<text x="270.50" y="426.00" font-size="7.2" text-anchor="middle" fill="#222" stroke="#222" stroke-width="0.18" font-family='"Liberation Sans", sans-serif'>−2</text>
<line x1="79.60" y1="292.25" x2="75.20" y2="292.25" stroke="#000" stroke-width="0.9"/>
<text x="69.70" y="292.25" font-size="7.2" text-anchor="middle" fill="#222" stroke="#222" stroke-width="0.18" font-family='"Liberation Sans", sans-serif' transform="rotate(-90 69.70 292.25)">5</text>
<line x1="79.60" y1="327.00" x2="75.20" y2="327.00" stroke="#000" stroke-width="0.9"/>
<text x="69.70" y="327.00" font-size="7.2" text-anchor="middle" fill="#222" stroke="#222" stroke-width="0.18" font-family='"Liberation Sans", sans-serif' transform="rotate(-90 69.70 327.00)">0</text>
<line x1="79.60" y1="361.75" x2="75.20" y2="361.75" stroke="#000" stroke-width="0.9"/>
<text x="69.70" y="361.75" font-size="7.2" text-anchor="middle" fill="#222" stroke="#222" stroke-width="0.18" font-family='"Liberation Sans", sans-serif' transform="rotate(-90 69.70 361.75)">−5</text>
<line x1="79.60" y1="396.50" x2="75.20" y2="396.50" stroke="#000" stroke-width="0.9"/>
<text x="69.70" y="396.50" font-size="7.2" text-anchor="middle" fill="#222" stroke="#222" stroke-width="0.18" font-family='"Liberation Sans", sans-serif' transform="rotate(-90 69.70 396.50)">−10</text>
<text x="52.20" y="342.80" font-size="7.2" text-anchor="middle" fill="#222" stroke="#222" stroke-width="0.18" font-family='"Liberation Sans", sans-serif' transform="rotate(-90 52.20 342.80)">Coefficient</text>
<text x="182.00" y="443.10" font-size="7.2" text-anchor="middle" fill="#222" stroke="#222" stroke-width="0.18" font-family='"Liberation Sans", sans-serif'>Log lambda</text>
<polyline points="87.10,279.90 88.88,280.77 91.35,281.98 94.27,283.41 97.42,284.94 100.57,286.48 103.50,287.90 106.16,289.19 108.74,290.44 111.31,291.69 113.99,292.97 116.85,294.33 120.00,295.80 123.50,297.41 127.29,299.13 131.28,300.92 135.35,302.75 139.43,304.59 143.40,306.40 147.40,308.25 151.52,310.17 155.64,312.11 159.63,313.97 163.36,315.69 166.70,317.20 169.60,318.48 172.16,319.58 174.45,320.54 176.58,321.39 178.63,322.17 180.70,322.90 182.72,323.58 184.60,324.17 186.41,324.69 188.21,325.14 190.05,325.54 192.00,325.90 193.39,326.21 194.04,326.45 194.74,326.64 196.27,326.79 199.43,326.90 205.00,327.00 214.36,327.06 227.15,327.08 241.56,327.07 255.80,327.04 268.04,327.01 276.50,327.00" fill="none" stroke="#000000" stroke-width="1.05" stroke-linejoin="round"/>
<polyline points="87.10,292.20 88.88,292.87 91.35,293.81 94.27,294.91 97.42,296.10 100.57,297.29 103.50,298.40 106.16,299.42 108.74,300.43 111.31,301.44 113.99,302.46 116.85,303.51 120.00,304.60 123.50,305.74 127.29,306.92 131.28,308.13 135.35,309.35 139.43,310.58 143.40,311.80 147.40,313.06 151.52,314.37 155.64,315.69 159.63,316.97 163.36,318.16 166.70,319.20 169.60,320.09 172.16,320.86 174.45,321.54 176.58,322.16 178.63,322.74 180.70,323.30 182.72,323.85 184.60,324.37 186.41,324.84 188.21,325.28 190.05,325.66 192.00,326.00 193.39,326.28 194.04,326.50 194.74,326.67 196.27,326.80 199.43,326.91 205.00,327.00 214.36,327.06 227.15,327.07 241.56,327.06 255.80,327.04 268.04,327.01 276.50,327.00" fill="none" stroke="#DF536B" stroke-width="1.05" stroke-linejoin="round"/>
<polyline points="87.20,330.50 88.10,330.16 89.29,329.66 90.73,329.09 92.36,328.50 94.13,327.98 96.00,327.60 97.73,327.36 99.32,327.21 101.05,327.12 103.21,327.07 106.10,327.04 110.00,327.00 115.41,326.97 122.21,326.97 129.73,326.99 137.31,327.01 144.29,327.02 150.00,327.00 154.38,326.98 157.95,326.97 160.92,326.96 163.49,326.90 165.88,326.79 168.30,326.60 170.54,326.30 172.41,325.92 174.09,325.48 175.78,325.00 177.69,324.54 180.00,324.10 182.76,323.64 185.81,323.13 189.08,322.61 192.47,322.16 195.91,321.84 199.30,321.70 202.68,321.78 206.12,322.03 209.60,322.40 213.10,322.85 216.61,323.33 220.10,323.80 223.41,324.31 226.52,324.90 229.63,325.53 232.95,326.13 236.67,326.64 241.00,327.00 246.48,327.19 253.07,327.24 260.06,327.20 266.76,327.12 272.47,327.04 276.50,327.00" fill="none" stroke="#61D04F" stroke-width="1.05" stroke-linejoin="round"/>
<polyline points="87.20,345.20 88.55,345.04 90.37,344.83 92.54,344.57 94.96,344.26 97.48,343.91 100.00,343.50 102.62,343.02 105.47,342.46 108.43,341.84 111.40,341.21 114.26,340.59 116.90,340.00 119.29,339.45 121.51,338.92 123.62,338.39 125.69,337.87 127.80,337.34 130.00,336.80 132.28,336.24 134.58,335.67 136.91,335.10 139.29,334.53 141.71,333.96 144.20,333.40 146.77,332.84 149.43,332.26 152.13,331.69 154.86,331.14 157.59,330.64 160.30,330.20 162.95,329.83 165.57,329.53 168.19,329.26 170.85,329.03 173.57,328.81 176.40,328.60 179.34,328.39 182.36,328.20 185.46,328.03 188.60,327.87 191.79,327.73 195.00,327.60 197.77,327.48 200.03,327.38 202.32,327.29 205.21,327.22 209.25,327.15 215.00,327.10 223.56,327.06 234.70,327.03 247.00,327.02 259.02,327.01 269.33,327.01 276.50,327.00" fill="none" stroke="#28C8CC" stroke-width="1.05" stroke-linejoin="round"/>
<polyline points="87.20,351.30 89.71,350.90 93.21,350.34 97.35,349.68 101.76,348.96 106.10,348.25 110.00,347.60 113.53,346.99 116.97,346.39 120.34,345.78 123.63,345.18 126.85,344.59 130.00,344.00 133.05,343.42 135.99,342.84 138.85,342.26 141.68,341.70 144.52,341.14 147.40,340.60 150.35,340.07 153.35,339.54 156.35,339.03 159.32,338.53 162.21,338.05 165.00,337.60 167.55,337.20 169.86,336.84 172.09,336.51 174.42,336.17 177.00,335.77 180.00,335.30 183.49,334.71 187.36,334.03 191.48,333.31 195.73,332.58 199.98,331.89 204.10,331.30 208.21,330.79 212.43,330.33 216.66,329.91 220.77,329.54 224.65,329.20 228.20,328.90 231.34,328.65 234.14,328.45 236.72,328.29 239.18,328.16 241.64,328.03 244.20,327.90 246.84,327.76 249.46,327.63 252.07,327.50 254.69,327.39 257.33,327.28 260.00,327.20 262.90,327.14 266.06,327.09 269.24,327.06 272.20,327.03 274.70,327.02 276.50,327.00" fill="none" stroke="#61D04F" stroke-width="1.05" stroke-linejoin="round"/>
<polyline points="87.20,382.40 88.52,381.64 90.33,380.60 92.49,379.36 94.84,378.01 97.26,376.67 99.60,375.40 101.91,374.19 104.30,372.96 106.76,371.73 109.25,370.49 111.74,369.28 114.20,368.10 116.63,366.95 119.07,365.82 121.50,364.71 123.93,363.61 126.37,362.55 128.80,361.50 131.23,360.48 133.67,359.49 136.10,358.51 138.53,357.56 140.97,356.62 143.40,355.70 145.83,354.78 148.27,353.85 150.70,352.94 153.13,352.07 155.57,351.25 158.00,350.50 160.46,349.83 162.95,349.21 165.44,348.65 167.90,348.13 170.29,347.65 172.60,347.20 174.79,346.79 176.87,346.43 178.90,346.11 180.90,345.81 182.92,345.51 185.00,345.20 187.03,344.89 188.95,344.61 190.89,344.32 192.97,344.03 195.30,343.69 198.00,343.30 201.13,342.85 204.62,342.34 208.36,341.80 212.25,341.24 216.20,340.67 220.10,340.10 224.09,339.53 228.28,338.93 232.52,338.33 236.69,337.73 240.62,337.15 244.20,336.60 247.42,336.09 250.40,335.60 253.16,335.13 255.71,334.67 258.09,334.19 260.30,333.70 262.31,333.19 264.09,332.67 265.69,332.14 267.16,331.60 268.55,331.05 269.90,330.50 271.25,329.89 272.57,329.23 273.80,328.55 274.90,327.92 275.82,327.38 276.50,327.00" fill="none" stroke="#BE3FB4" stroke-width="1.05" stroke-linejoin="round"/>
<polyline points="87.20,405.30 88.32,404.60 89.87,403.64 91.71,402.50 93.67,401.25 95.62,399.96 97.40,398.70 98.96,397.49 100.43,396.27 101.88,395.02 103.38,393.69 105.03,392.26 106.90,390.70 109.04,388.97 111.39,387.10 113.88,385.12 116.44,383.09 119.01,381.03 121.50,379.00 123.93,376.95 126.37,374.84 128.80,372.71 131.23,370.60 133.67,368.55 136.10,366.60 138.53,364.74 140.97,362.93 143.40,361.18 145.83,359.50 148.27,357.91 150.70,356.40 153.13,354.99 155.57,353.68 158.00,352.45 160.43,351.29 162.87,350.17 165.30,349.10 167.72,348.08 170.11,347.12 172.51,346.22 174.92,345.36 177.38,344.52 179.90,343.70 182.40,342.92 184.86,342.20 187.36,341.51 189.99,340.82 192.84,340.09 196.00,339.30 199.55,338.42 203.44,337.48 207.55,336.51 211.77,335.53 215.99,334.58 220.10,333.70 224.21,332.85 228.44,332.01 232.67,331.20 236.78,330.44 240.66,329.77 244.20,329.20 247.31,328.75 250.06,328.41 252.57,328.16 254.99,327.95 257.42,327.78 260.00,327.60 262.90,327.44 266.06,327.30 269.24,327.20 272.20,327.12 274.70,327.05 276.50,327.00" fill="none" stroke="#DF536B" stroke-width="1.05" stroke-linejoin="round"/>
<polyline points="87.20,327.00 90.45,327.00 95.13,326.99 100.58,326.99 106.14,326.99 111.17,326.99 115.00,327.00 117.50,327.00 119.16,326.99 120.27,326.98 121.16,326.99 122.10,327.06 123.40,327.20 125.04,327.44 126.79,327.76 128.59,328.13 130.41,328.52 132.23,328.89 134.00,329.20 135.65,329.46 137.21,329.70 138.76,329.92 140.38,330.13 142.16,330.32 144.20,330.50 146.54,330.68 149.13,330.87 151.88,331.05 154.71,331.19 157.55,331.28 160.30,331.30 163.01,331.24 165.76,331.12 168.51,330.95 171.22,330.73 173.86,330.48 176.40,330.20 178.85,329.86 181.25,329.43 183.58,328.98 185.83,328.52 187.97,328.12 190.00,327.80 191.11,327.58 191.14,327.42 191.07,327.31 191.87,327.23 194.53,327.16 200.00,327.10 209.79,327.05 223.41,327.02 238.88,327.01 254.20,327.00 267.41,327.00 276.50,327.00" fill="none" stroke="#000000" stroke-width="1.05" stroke-linejoin="round"/>
<polyline points="87.20,329.00 87.97,328.86 88.96,328.67 90.16,328.44 91.58,328.21 93.19,327.98 95.00,327.80 95.33,327.65 93.86,327.51 92.58,327.38 93.51,327.27 98.65,327.18 110.00,327.10 130.91,327.05 160.44,327.02 194.19,327.01 227.72,327.00 256.63,327.00 276.50,327.00" fill="none" stroke="#2297E6" stroke-width="1.05" stroke-linejoin="round"/>
<line x1="87.20" y1="327.00" x2="276.50" y2="327.00" stroke="#333" stroke-width="1.15"/>
<rect x="79.60" y="274.50" width="204.90" height="135.60" fill="none" stroke="#111" stroke-width="1.0"/>
<text x="378.20" y="270.60" font-size="17.5" text-anchor="start" fill="#000" font-family='"Liberation Serif", serif'>D</text>
<text x="444.20" y="264.60" font-size="7.2" text-anchor="middle" fill="#222" stroke="#222" stroke-width="0.18" font-family='"Liberation Sans", sans-serif'>8</text>
<text x="454.00" y="264.60" font-size="7.2" text-anchor="middle" fill="#222" stroke="#222" stroke-width="0.18" font-family='"Liberation Sans", sans-serif'>8</text>
<text x="464.10" y="264.60" font-size="7.2" text-anchor="middle" fill="#222" stroke="#222" stroke-width="0.18" font-family='"Liberation Sans", sans-serif'>7</text>
<text x="474.20" y="264.60" font-size="7.2" text-anchor="middle" fill="#222" stroke="#222" stroke-width="0.18" font-family='"Liberation Sans", sans-serif'>7</text>
<text x="484.40" y="264.60" font-size="7.2" text-anchor="middle" fill="#222" stroke="#222" stroke-width="0.18" font-family='"Liberation Sans", sans-serif'>8</text>
<text x="494.50" y="264.60" font-size="7.2" text-anchor="middle" fill="#222" stroke="#222" stroke-width="0.18" font-family='"Liberation Sans", sans-serif'>8</text>
<text x="504.60" y="264.60" font-size="7.2" text-anchor="middle" fill="#222" stroke="#222" stroke-width="0.18" font-family='"Liberation Sans", sans-serif'>8</text>
<text x="514.70" y="264.60" font-size="7.2" text-anchor="middle" fill="#222" stroke="#222" stroke-width="0.18" font-family='"Liberation Sans", sans-serif'>8</text>
<text x="524.80" y="264.60" font-size="7.2" text-anchor="middle" fill="#222" stroke="#222" stroke-width="0.18" font-family='"Liberation Sans", sans-serif'>8</text>
<text x="537.10" y="264.60" font-size="7.2" text-anchor="middle" fill="#222" stroke="#222" stroke-width="0.18" font-family='"Liberation Sans", sans-serif'>10</text>
<text x="550.90" y="264.60" font-size="7.2" text-anchor="middle" fill="#222" stroke="#222" stroke-width="0.18" font-family='"Liberation Sans", sans-serif'>10</text>
<text x="563.10" y="264.60" font-size="7.2" text-anchor="middle" fill="#222" stroke="#222" stroke-width="0.18" font-family='"Liberation Sans", sans-serif'>9</text>
<text x="573.00" y="264.60" font-size="7.2" text-anchor="middle" fill="#222" stroke="#222" stroke-width="0.18" font-family='"Liberation Sans", sans-serif'>7</text>
<text x="583.40" y="264.60" font-size="7.2" text-anchor="middle" fill="#222" stroke="#222" stroke-width="0.18" font-family='"Liberation Sans", sans-serif'>6</text>
<text x="593.20" y="264.60" font-size="7.2" text-anchor="middle" fill="#222" stroke="#222" stroke-width="0.18" font-family='"Liberation Sans", sans-serif'>6</text>
<text x="603.30" y="264.60" font-size="7.2" text-anchor="middle" fill="#222" stroke="#222" stroke-width="0.18" font-family='"Liberation Sans", sans-serif'>5</text>
<text x="613.40" y="264.60" font-size="7.2" text-anchor="middle" fill="#222" stroke="#222" stroke-width="0.18" font-family='"Liberation Sans", sans-serif'>4</text>
<text x="623.80" y="264.60" font-size="7.2" text-anchor="middle" fill="#222" stroke="#222" stroke-width="0.18" font-family='"Liberation Sans", sans-serif'>2</text>
<text x="633.60" y="264.60" font-size="7.2" text-anchor="middle" fill="#222" stroke="#222" stroke-width="0.18" font-family='"Liberation Sans", sans-serif'>0</text>
<line x1="437.00" y1="408.50" x2="432.60" y2="408.50" stroke="#000" stroke-width="0.9"/>
<text x="426.00" y="408.50" font-size="7.2" text-anchor="middle" fill="#222" stroke="#222" stroke-width="0.18" font-family='"Liberation Sans", sans-serif' transform="rotate(-90 426.00 408.50)">0.0</text>
<line x1="437.00" y1="390.03" x2="432.60" y2="390.03" stroke="#000" stroke-width="0.9"/>
<text x="426.00" y="390.03" font-size="7.2" text-anchor="middle" fill="#222" stroke="#222" stroke-width="0.18" font-family='"Liberation Sans", sans-serif' transform="rotate(-90 426.00 390.03)">0.1</text>
<line x1="437.00" y1="371.56" x2="432.60" y2="371.56" stroke="#000" stroke-width="0.9"/>
<text x="426.00" y="371.56" font-size="7.2" text-anchor="middle" fill="#222" stroke="#222" stroke-width="0.18" font-family='"Liberation Sans", sans-serif' transform="rotate(-90 426.00 371.56)">0.2</text>
<line x1="437.00" y1="353.09" x2="432.60" y2="353.09" stroke="#000" stroke-width="0.9"/>
<text x="426.00" y="353.09" font-size="7.2" text-anchor="middle" fill="#222" stroke="#222" stroke-width="0.18" font-family='"Liberation Sans", sans-serif' transform="rotate(-90 426.00 353.09)">0.3</text>
<line x1="437.00" y1="334.62" x2="432.60" y2="334.62" stroke="#000" stroke-width="0.9"/>
<text x="426.00" y="334.62" font-size="7.2" text-anchor="middle" fill="#222" stroke="#222" stroke-width="0.18" font-family='"Liberation Sans", sans-serif' transform="rotate(-90 426.00 334.62)">0.4</text>
<line x1="437.00" y1="316.15" x2="432.60" y2="316.15" stroke="#000" stroke-width="0.9"/>
<text x="426.00" y="316.15" font-size="7.2" text-anchor="middle" fill="#222" stroke="#222" stroke-width="0.18" font-family='"Liberation Sans", sans-serif' transform="rotate(-90 426.00 316.15)">0.5</text>
<line x1="437.00" y1="297.68" x2="432.60" y2="297.68" stroke="#000" stroke-width="0.9"/>
<text x="426.00" y="297.68" font-size="7.2" text-anchor="middle" fill="#222" stroke="#222" stroke-width="0.18" font-family='"Liberation Sans", sans-serif' transform="rotate(-90 426.00 297.68)">0.6</text>
<line x1="437.00" y1="279.21" x2="432.60" y2="279.21" stroke="#000" stroke-width="0.9"/>
<text x="426.00" y="279.21" font-size="7.2" text-anchor="middle" fill="#222" stroke="#222" stroke-width="0.18" font-family='"Liberation Sans", sans-serif' transform="rotate(-90 426.00 279.21)">0.7</text>
<line x1="454.20" y1="410.20" x2="454.20" y2="414.60" stroke="#000" stroke-width="0.9"/>
<text x="454.20" y="426.00" font-size="7.2" text-anchor="middle" fill="#222" stroke="#222" stroke-width="0.18" font-family='"Liberation Sans", sans-serif'>−10</text>
<line x1="497.40" y1="410.20" x2="497.40" y2="414.60" stroke="#000" stroke-width="0.9"/>
<text x="497.40" y="426.00" font-size="7.2" text-anchor="middle" fill="#222" stroke="#222" stroke-width="0.18" font-family='"Liberation Sans", sans-serif'>−8</text>
<line x1="540.60" y1="410.20" x2="540.60" y2="414.60" stroke="#000" stroke-width="0.9"/>
<text x="540.60" y="426.00" font-size="7.2" text-anchor="middle" fill="#222" stroke="#222" stroke-width="0.18" font-family='"Liberation Sans", sans-serif'>−6</text>
<line x1="583.80" y1="410.20" x2="583.80" y2="414.60" stroke="#000" stroke-width="0.9"/>
<text x="583.80" y="426.00" font-size="7.2" text-anchor="middle" fill="#222" stroke="#222" stroke-width="0.18" font-family='"Liberation Sans", sans-serif'>−4</text>
<line x1="627.00" y1="410.20" x2="627.00" y2="414.60" stroke="#000" stroke-width="0.9"/>
<text x="627.00" y="426.00" font-size="7.2" text-anchor="middle" fill="#222" stroke="#222" stroke-width="0.18" font-family='"Liberation Sans", sans-serif'>−2</text>
<text x="410.00" y="342.40" font-size="7.2" text-anchor="middle" fill="#222" stroke="#222" stroke-width="0.18" font-family='"Liberation Sans", sans-serif' transform="rotate(-90 410.00 342.40)">Binomial Deviance</text>
<text x="539.40" y="443.40" font-size="7.2" text-anchor="middle" fill="#222" stroke="#222" stroke-width="0.18" font-family='"Liberation Sans", sans-serif'>Log lambda</text>
<line x1="502.80" y1="274.30" x2="502.80" y2="410.20" stroke="#555" stroke-width="0.9" stroke-dasharray="1,2.6"/>
<line x1="535.10" y1="274.30" x2="535.10" y2="410.20" stroke="#555" stroke-width="0.9" stroke-dasharray="1,2.6"/>
<path d="M634.10,301.37V279.21M632.80,301.37h2.6M632.80,279.21h2.6M631.60,309.91V289.88M630.30,309.91h2.6M630.30,289.88h2.6M629.90,319.22V300.52M628.60,319.22h2.6M628.60,300.52h2.6M627.60,326.33V309.30M626.30,326.33h2.6M626.30,309.30h2.6M625.70,333.21V317.19M624.40,333.21h2.6M624.40,317.19h2.6M623.90,339.45V324.25M622.60,339.45h2.6M622.60,324.25h2.6M621.80,344.73V330.42M620.50,344.73h2.6M620.50,330.42h2.6M619.70,349.86V336.38M618.40,349.86h2.6M618.40,336.38h2.6M617.80,354.48V341.72M616.50,354.48h2.6M616.50,341.72h2.6M615.70,358.92V346.89M614.40,358.92h2.6M614.40,346.89h2.6M613.60,363.04V351.64M612.30,363.04h2.6M612.30,351.64h2.6M611.70,367.02V356.16M610.40,367.02h2.6M610.40,356.16h2.6M609.60,370.24V359.95M608.30,370.24h2.6M608.30,359.95h2.6M607.40,373.47V363.74M606.10,373.47h2.6M606.10,363.74h2.6M605.35,376.48V367.25M604.05,376.48h2.6M604.05,367.25h2.6M603.30,378.76V369.92M602.00,378.76h2.6M602.00,369.92h2.6M601.25,380.88V372.40M599.95,380.88h2.6M599.95,372.40h2.6M599.20,382.74V374.62M597.90,382.74h2.6M597.90,374.62h2.6M597.15,384.45V376.66M595.85,384.45h2.6M595.85,376.66h2.6M595.10,386.04V378.57M593.80,386.04h2.6M593.80,378.57h2.6M593.05,387.53V380.37M591.75,387.53h2.6M591.75,380.37h2.6M591.00,388.93V382.08M589.70,388.93h2.6M589.70,382.08h2.6M588.95,390.25V383.67M587.65,390.25h2.6M587.65,383.67h2.6M586.90,391.48V385.17M585.60,391.48h2.6M585.60,385.17h2.6M584.85,392.57V386.53M583.55,392.57h2.6M583.55,386.53h2.6M582.80,393.57V387.74M581.50,393.57h2.6M581.50,387.74h2.6M580.75,394.53V388.86M579.45,394.53h2.6M579.45,388.86h2.6M578.70,395.42V389.90M577.40,395.42h2.6M577.40,389.90h2.6M576.65,396.06V390.68M575.35,396.06h2.6M575.35,390.68h2.6M574.60,396.66V391.43M573.30,396.66h2.6M573.30,391.43h2.6M572.55,397.23V392.15M571.25,397.23h2.6M571.25,392.15h2.6M570.50,397.78V392.83M569.20,397.78h2.6M569.20,392.83h2.6M568.45,398.30V393.49M567.15,398.30h2.6M567.15,393.49h2.6M566.40,398.80V394.11M565.10,398.80h2.6M565.10,394.11h2.6M564.35,399.28V394.72M563.05,399.28h2.6M563.05,394.72h2.6M562.30,399.67V395.23M561.00,399.67h2.6M561.00,395.23h2.6M560.25,400.06V395.68M558.95,400.06h2.6M558.95,395.68h2.6M558.20,400.44V396.12M556.90,400.44h2.6M556.90,396.12h2.6M556.15,400.81V396.54M554.85,400.81h2.6M554.85,396.54h2.6M554.10,401.16V396.94M552.80,401.16h2.6M552.80,396.94h2.6M552.05,401.50V397.33M550.75,401.50h2.6M550.75,397.33h2.6M550.00,401.82V397.71M548.70,401.82h2.6M548.70,397.71h2.6M547.95,402.09V398.03M546.65,402.09h2.6M546.65,398.03h2.6M545.90,402.34V398.33M544.60,402.34h2.6M544.60,398.33h2.6M543.85,402.58V398.63M542.55,402.58h2.6M542.55,398.63h2.6M541.80,402.82V398.91M540.50,402.82h2.6M540.50,398.91h2.6M539.75,403.05V399.18M538.45,403.05h2.6M538.45,399.18h2.6M537.70,403.30V399.42M536.40,403.30h2.6M536.40,399.42h2.6M535.65,403.53V399.65M534.35,403.53h2.6M534.35,399.65h2.6M533.60,403.72V399.84M532.30,403.72h2.6M532.30,399.84h2.6M531.55,403.88V400.00M530.25,403.88h2.6M530.25,400.00h2.6M529.50,404.04V400.16M528.20,404.04h2.6M528.20,400.16h2.6M527.45,404.19V400.31M526.15,404.19h2.6M526.15,400.31h2.6M525.40,404.34V400.46M524.10,404.34h2.6M524.10,400.46h2.6M523.35,404.49V400.61M522.05,404.49h2.6M522.05,400.61h2.6M521.30,404.63V400.75M520.00,404.63h2.6M520.00,400.75h2.6M519.25,404.73V400.85M517.95,404.73h2.6M517.95,400.85h2.6M517.20,404.77V400.89M515.90,404.77h2.6M515.90,400.89h2.6M515.15,404.81V400.93M513.85,404.81h2.6M513.85,400.93h2.6M513.10,404.85V400.97M511.80,404.85h2.6M511.80,400.97h2.6M511.05,404.89V401.01M509.75,404.89h2.6M509.75,401.01h2.6M509.00,404.93V401.05M507.70,404.93h2.6M507.70,401.05h2.6M506.95,404.97V401.09M505.65,404.97h2.6M505.65,401.09h2.6M504.90,405.01V401.13M503.60,405.01h2.6M503.60,401.13h2.6M502.85,405.05V401.17M501.55,405.05h2.6M501.55,401.17h2.6M500.80,405.07V401.07M499.50,405.07h2.6M499.50,401.07h2.6M498.75,405.09V400.96M497.45,405.09h2.6M497.45,400.96h2.6M496.70,405.12V400.85M495.40,405.12h2.6M495.40,400.85h2.6M494.65,405.14V400.74M493.35,405.14h2.6M493.35,400.74h2.6M492.60,405.17V400.63M491.30,405.17h2.6M491.30,400.63h2.6M490.55,405.20V400.51M489.25,405.20h2.6M489.25,400.51h2.6M488.50,405.24V400.39M487.20,405.24h2.6M487.20,400.39h2.6M486.45,405.27V400.27M485.15,405.27h2.6M485.15,400.27h2.6M484.40,405.30V400.13M483.10,405.30h2.6M483.10,400.13h2.6M482.35,405.32V399.98M481.05,405.32h2.6M481.05,399.98h2.6M480.30,405.35V399.84M479.00,405.35h2.6M479.00,399.84h2.6M478.25,405.38V399.69M476.95,405.38h2.6M476.95,399.69h2.6M476.20,405.41V399.53M474.90,405.41h2.6M474.90,399.53h2.6M474.15,405.41V399.41M472.85,405.41h2.6M472.85,399.41h2.6M472.10,405.40V399.30M470.80,405.40h2.6M470.80,399.30h2.6M470.05,405.39V399.18M468.75,405.39h2.6M468.75,399.18h2.6M468.00,405.38V399.07M466.70,405.38h2.6M466.70,399.07h2.6M465.95,405.37V398.95M464.65,405.37h2.6M464.65,398.95h2.6M463.90,405.37V398.84M462.60,405.37h2.6M462.60,398.84h2.6M461.85,405.38V398.74M460.55,405.38h2.6M460.55,398.74h2.6M459.80,405.40V398.64M458.50,405.40h2.6M458.50,398.64h2.6M457.75,405.41V398.54M456.45,405.41h2.6M456.45,398.54h2.6M455.70,405.43V398.44M454.40,405.43h2.6M454.40,398.44h2.6M453.65,405.45V398.34M452.35,405.45h2.6M452.35,398.34h2.6M451.60,405.46V398.23M450.30,405.46h2.6M450.30,398.23h2.6M449.55,405.48V398.13M448.25,405.48h2.6M448.25,398.13h2.6M447.50,405.50V398.02M446.20,405.50h2.6M446.20,398.02h2.6M445.45,405.52V397.91M444.15,405.52h2.6M444.15,397.91h2.6M443.40,405.54V397.80M442.10,405.54h2.6M442.10,397.80h2.6" stroke="#a9a9a9" stroke-width="0.9" fill="none"/>
<circle cx="634.10" cy="290.29" r="1.85" fill="#ee1010"/>
<circle cx="631.60" cy="299.90" r="1.85" fill="#ee1010"/>
<circle cx="629.90" cy="309.87" r="1.85" fill="#ee1010"/>
<circle cx="627.60" cy="317.81" r="1.85" fill="#ee1010"/>
<circle cx="625.70" cy="325.20" r="1.85" fill="#ee1010"/>
<circle cx="623.90" cy="331.85" r="1.85" fill="#ee1010"/>
<circle cx="621.80" cy="337.58" r="1.85" fill="#ee1010"/>
<circle cx="619.70" cy="343.12" r="1.85" fill="#ee1010"/>
<circle cx="617.80" cy="348.10" r="1.85" fill="#ee1010"/>
<circle cx="615.70" cy="352.91" r="1.85" fill="#ee1010"/>
<circle cx="613.60" cy="357.34" r="1.85" fill="#ee1010"/>
<circle cx="611.70" cy="361.59" r="1.85" fill="#ee1010"/>
<circle cx="609.60" cy="365.10" r="1.85" fill="#ee1010"/>
<circle cx="607.40" cy="368.60" r="1.85" fill="#ee1010"/>
<circle cx="605.35" cy="371.87" r="1.85" fill="#ee1010"/>
<circle cx="603.30" cy="374.34" r="1.85" fill="#ee1010"/>
<circle cx="601.25" cy="376.64" r="1.85" fill="#ee1010"/>
<circle cx="599.20" cy="378.68" r="1.85" fill="#ee1010"/>
<circle cx="597.15" cy="380.55" r="1.85" fill="#ee1010"/>
<circle cx="595.10" cy="382.31" r="1.85" fill="#ee1010"/>
<circle cx="593.05" cy="383.95" r="1.85" fill="#ee1010"/>
<circle cx="591.00" cy="385.50" r="1.85" fill="#ee1010"/>
<circle cx="588.95" cy="386.96" r="1.85" fill="#ee1010"/>
<circle cx="586.90" cy="388.33" r="1.85" fill="#ee1010"/>
<circle cx="584.85" cy="389.55" r="1.85" fill="#ee1010"/>
<circle cx="582.80" cy="390.66" r="1.85" fill="#ee1010"/>
<circle cx="580.75" cy="391.70" r="1.85" fill="#ee1010"/>
<circle cx="578.70" cy="392.66" r="1.85" fill="#ee1010"/>
<circle cx="576.65" cy="393.37" r="1.85" fill="#ee1010"/>
<circle cx="574.60" cy="394.04" r="1.85" fill="#ee1010"/>
<circle cx="572.55" cy="394.69" r="1.85" fill="#ee1010"/>
<circle cx="570.50" cy="395.31" r="1.85" fill="#ee1010"/>
<circle cx="568.45" cy="395.90" r="1.85" fill="#ee1010"/>
<circle cx="566.40" cy="396.46" r="1.85" fill="#ee1010"/>
<circle cx="564.35" cy="397.00" r="1.85" fill="#ee1010"/>
<circle cx="562.30" cy="397.45" r="1.85" fill="#ee1010"/>
<circle cx="560.25" cy="397.87" r="1.85" fill="#ee1010"/>
<circle cx="558.20" cy="398.28" r="1.85" fill="#ee1010"/>
<circle cx="556.15" cy="398.67" r="1.85" fill="#ee1010"/>
<circle cx="554.10" cy="399.05" r="1.85" fill="#ee1010"/>
<circle cx="552.05" cy="399.41" r="1.85" fill="#ee1010"/>
<circle cx="550.00" cy="399.76" r="1.85" fill="#ee1010"/>
<circle cx="547.95" cy="400.06" r="1.85" fill="#ee1010"/>
<circle cx="545.90" cy="400.34" r="1.85" fill="#ee1010"/>
<circle cx="543.85" cy="400.60" r="1.85" fill="#ee1010"/>
<circle cx="541.80" cy="400.86" r="1.85" fill="#ee1010"/>
<circle cx="539.75" cy="401.11" r="1.85" fill="#ee1010"/>
<circle cx="537.70" cy="401.36" r="1.85" fill="#ee1010"/>
<circle cx="535.65" cy="401.59" r="1.85" fill="#ee1010"/>
<circle cx="533.60" cy="401.78" r="1.85" fill="#ee1010"/>
<circle cx="531.55" cy="401.94" r="1.85" fill="#ee1010"/>
<circle cx="529.50" cy="402.10" r="1.85" fill="#ee1010"/>
<circle cx="527.45" cy="402.25" r="1.85" fill="#ee1010"/>
<circle cx="525.40" cy="402.40" r="1.85" fill="#ee1010"/>
<circle cx="523.35" cy="402.55" r="1.85" fill="#ee1010"/>
<circle cx="521.30" cy="402.69" r="1.85" fill="#ee1010"/>
<circle cx="519.25" cy="402.79" r="1.85" fill="#ee1010"/>
<circle cx="517.20" cy="402.83" r="1.85" fill="#ee1010"/>
<circle cx="515.15" cy="402.87" r="1.85" fill="#ee1010"/>
<circle cx="513.10" cy="402.91" r="1.85" fill="#ee1010"/>
<circle cx="511.05" cy="402.95" r="1.85" fill="#ee1010"/>
<circle cx="509.00" cy="402.99" r="1.85" fill="#ee1010"/>
<circle cx="506.95" cy="403.03" r="1.85" fill="#ee1010"/>
<circle cx="504.90" cy="403.07" r="1.85" fill="#ee1010"/>
<circle cx="502.85" cy="403.11" r="1.85" fill="#ee1010"/>
<circle cx="500.80" cy="403.07" r="1.85" fill="#ee1010"/>
<circle cx="498.75" cy="403.03" r="1.85" fill="#ee1010"/>
<circle cx="496.70" cy="402.98" r="1.85" fill="#ee1010"/>
<circle cx="494.65" cy="402.94" r="1.85" fill="#ee1010"/>
<circle cx="492.60" cy="402.90" r="1.85" fill="#ee1010"/>
<circle cx="490.55" cy="402.86" r="1.85" fill="#ee1010"/>
<circle cx="488.50" cy="402.81" r="1.85" fill="#ee1010"/>
<circle cx="486.45" cy="402.77" r="1.85" fill="#ee1010"/>
<circle cx="484.40" cy="402.71" r="1.85" fill="#ee1010"/>
<circle cx="482.35" cy="402.65" r="1.85" fill="#ee1010"/>
<circle cx="480.30" cy="402.59" r="1.85" fill="#ee1010"/>
<circle cx="478.25" cy="402.53" r="1.85" fill="#ee1010"/>
<circle cx="476.20" cy="402.47" r="1.85" fill="#ee1010"/>
<circle cx="474.15" cy="402.41" r="1.85" fill="#ee1010"/>
<circle cx="472.10" cy="402.35" r="1.85" fill="#ee1010"/>
<circle cx="470.05" cy="402.29" r="1.85" fill="#ee1010"/>
<circle cx="468.00" cy="402.22" r="1.85" fill="#ee1010"/>
<circle cx="465.95" cy="402.16" r="1.85" fill="#ee1010"/>
<circle cx="463.90" cy="402.11" r="1.85" fill="#ee1010"/>
<circle cx="461.85" cy="402.06" r="1.85" fill="#ee1010"/>
<circle cx="459.80" cy="402.02" r="1.85" fill="#ee1010"/>
<circle cx="457.75" cy="401.98" r="1.85" fill="#ee1010"/>
<circle cx="455.70" cy="401.93" r="1.85" fill="#ee1010"/>
<circle cx="453.65" cy="401.89" r="1.85" fill="#ee1010"/>
<circle cx="451.60" cy="401.85" r="1.85" fill="#ee1010"/>
<circle cx="449.55" cy="401.80" r="1.85" fill="#ee1010"/>
<circle cx="447.50" cy="401.76" r="1.85" fill="#ee1010"/>
<circle cx="445.45" cy="401.72" r="1.85" fill="#ee1010"/>
<circle cx="443.40" cy="401.67" r="1.85" fill="#ee1010"/>
<rect x="437.00" y="274.30" width="204.40" height="135.90" fill="none" stroke="#111" stroke-width="1.0"/>
<text x="32.30" y="444.00" font-size="17.5" text-anchor="start" fill="#000" font-family='"Liberation Serif", serif'>E</text>
<line x1="71.70" y1="586.51" x2="66.70" y2="586.51" stroke="#000" stroke-width="0.9"/>
<text x="59.90" y="586.51" font-size="7.7" text-anchor="middle" fill="#222" stroke="#222" stroke-width="0.18" font-family='"Liberation Sans", sans-serif' transform="rotate(-90 59.90 586.51)">0.96</text>
<line x1="71.70" y1="552.04" x2="66.70" y2="552.04" stroke="#000" stroke-width="0.9"/>
<text x="59.90" y="552.04" font-size="7.7" text-anchor="middle" fill="#222" stroke="#222" stroke-width="0.18" font-family='"Liberation Sans", sans-serif' transform="rotate(-90 59.90 552.04)">0.97</text>
<line x1="71.70" y1="517.57" x2="66.70" y2="517.57" stroke="#000" stroke-width="0.9"/>
<text x="59.90" y="517.57" font-size="7.7" text-anchor="middle" fill="#222" stroke="#222" stroke-width="0.18" font-family='"Liberation Sans", sans-serif' transform="rotate(-90 59.90 517.57)">0.98</text>
<line x1="71.70" y1="483.10" x2="66.70" y2="483.10" stroke="#000" stroke-width="0.9"/>
<text x="59.90" y="483.10" font-size="7.7" text-anchor="middle" fill="#222" stroke="#222" stroke-width="0.18" font-family='"Liberation Sans", sans-serif' transform="rotate(-90 59.90 483.10)">0.99</text>
<line x1="94.18" y1="597.50" x2="94.18" y2="602.50" stroke="#000" stroke-width="0.9"/>
<text x="94.18" y="614.80" font-size="7.7" text-anchor="middle" fill="#222" stroke="#222" stroke-width="0.18" font-family='"Liberation Sans", sans-serif'>2</text>
<line x1="123.94" y1="597.50" x2="123.94" y2="602.50" stroke="#000" stroke-width="0.9"/>
<text x="123.94" y="614.80" font-size="7.7" text-anchor="middle" fill="#222" stroke="#222" stroke-width="0.18" font-family='"Liberation Sans", sans-serif'>4</text>
<line x1="153.70" y1="597.50" x2="153.70" y2="602.50" stroke="#000" stroke-width="0.9"/>
<text x="153.70" y="614.80" font-size="7.7" text-anchor="middle" fill="#222" stroke="#222" stroke-width="0.18" font-family='"Liberation Sans", sans-serif'>6</text>
<line x1="183.46" y1="597.50" x2="183.46" y2="602.50" stroke="#000" stroke-width="0.9"/>
<text x="183.46" y="614.80" font-size="7.7" text-anchor="middle" fill="#222" stroke="#222" stroke-width="0.18" font-family='"Liberation Sans", sans-serif'>8</text>
<line x1="213.22" y1="597.50" x2="213.22" y2="602.50" stroke="#000" stroke-width="0.9"/>
<text x="213.22" y="614.80" font-size="7.7" text-anchor="middle" fill="#222" stroke="#222" stroke-width="0.18" font-family='"Liberation Sans", sans-serif'>10</text>
<line x1="242.98" y1="597.50" x2="242.98" y2="602.50" stroke="#000" stroke-width="0.9"/>
<text x="242.98" y="614.80" font-size="7.7" text-anchor="middle" fill="#222" stroke="#222" stroke-width="0.18" font-family='"Liberation Sans", sans-serif'>12</text>
<line x1="272.74" y1="597.50" x2="272.74" y2="602.50" stroke="#000" stroke-width="0.9"/>
<text x="272.74" y="614.80" font-size="7.7" text-anchor="middle" fill="#222" stroke="#222" stroke-width="0.18" font-family='"Liberation Sans", sans-serif'>14</text>
<text x="41.30" y="523.20" font-size="7.9" text-anchor="middle" fill="#222" stroke="#222" stroke-width="0.18" font-family='"Liberation Sans", sans-serif' transform="rotate(-90 41.30 523.20)">5 x CV Accuracy</text>
<text x="183.65" y="633.40" font-size="7.8" text-anchor="middle" fill="#222" stroke="#222" stroke-width="0.18" font-family='"Liberation Sans", sans-serif'>Number of Features</text>
<polyline points="79.30,592.40 94.18,500.34 109.06,476.90 123.94,494.48 138.82,454.15 153.70,471.38 168.58,465.69 183.46,465.69 198.34,465.69 213.22,482.58 228.10,477.00 242.98,471.38 257.86,471.38 272.74,471.38 287.62,471.38" fill="none" stroke="#3a80c3" stroke-width="2.7" stroke-linejoin="round" stroke-linecap="round"/>
<circle cx="138.82" cy="454.15" r="1.9" fill="none" stroke="#e0303a" stroke-width="1.0"/>
<text x="134.40" y="456.40" font-size="9.0" text-anchor="end" fill="#e8303a" stroke="#e8303a" stroke-width="0.18" font-family='"Liberation Sans", sans-serif'>5 − 0.998</text>
<rect x="71.70" y="448.60" width="223.90" height="148.90" fill="none" stroke="#111" stroke-width="1.0"/>
<text x="379.50" y="444.00" font-size="17.5" text-anchor="start" fill="#000" font-family='"Liberation Serif", serif'>F</text>
<line x1="428.50" y1="563.70" x2="423.50" y2="563.70" stroke="#000" stroke-width="0.9"/>
<text x="416.90" y="563.70" font-size="7.7" text-anchor="middle" fill="#222" stroke="#222" stroke-width="0.18" font-family='"Liberation Sans", sans-serif' transform="rotate(-90 416.90 563.70)">0.01</text>
<line x1="428.50" y1="529.20" x2="423.50" y2="529.20" stroke="#000" stroke-width="0.9"/>
<text x="416.90" y="529.20" font-size="7.7" text-anchor="middle" fill="#222" stroke="#222" stroke-width="0.18" font-family='"Liberation Sans", sans-serif' transform="rotate(-90 416.90 529.20)">0.02</text>
<line x1="428.50" y1="494.70" x2="423.50" y2="494.70" stroke="#000" stroke-width="0.9"/>
<text x="416.90" y="494.70" font-size="7.7" text-anchor="middle" fill="#222" stroke="#222" stroke-width="0.18" font-family='"Liberation Sans", sans-serif' transform="rotate(-90 416.90 494.70)">0.03</text>
<line x1="428.50" y1="460.20" x2="423.50" y2="460.20" stroke="#000" stroke-width="0.9"/>
<text x="416.90" y="460.20" font-size="7.7" text-anchor="middle" fill="#222" stroke="#222" stroke-width="0.18" font-family='"Liberation Sans", sans-serif' transform="rotate(-90 416.90 460.20)">0.04</text>
<line x1="451.45" y1="597.60" x2="451.45" y2="602.60" stroke="#000" stroke-width="0.9"/>
<text x="451.45" y="614.80" font-size="7.7" text-anchor="middle" fill="#222" stroke="#222" stroke-width="0.18" font-family='"Liberation Sans", sans-serif'>2</text>
<line x1="481.15" y1="597.60" x2="481.15" y2="602.60" stroke="#000" stroke-width="0.9"/>
<text x="481.15" y="614.80" font-size="7.7" text-anchor="middle" fill="#222" stroke="#222" stroke-width="0.18" font-family='"Liberation Sans", sans-serif'>4</text>
<line x1="510.85" y1="597.60" x2="510.85" y2="602.60" stroke="#000" stroke-width="0.9"/>
<text x="510.85" y="614.80" font-size="7.7" text-anchor="middle" fill="#222" stroke="#222" stroke-width="0.18" font-family='"Liberation Sans", sans-serif'>6</text>
<line x1="540.55" y1="597.60" x2="540.55" y2="602.60" stroke="#000" stroke-width="0.9"/>
<text x="540.55" y="614.80" font-size="7.7" text-anchor="middle" fill="#222" stroke="#222" stroke-width="0.18" font-family='"Liberation Sans", sans-serif'>8</text>
<line x1="570.25" y1="597.60" x2="570.25" y2="602.60" stroke="#000" stroke-width="0.9"/>
<text x="570.25" y="614.80" font-size="7.7" text-anchor="middle" fill="#222" stroke="#222" stroke-width="0.18" font-family='"Liberation Sans", sans-serif'>10</text>
<line x1="599.95" y1="597.60" x2="599.95" y2="602.60" stroke="#000" stroke-width="0.9"/>
<text x="599.95" y="614.80" font-size="7.7" text-anchor="middle" fill="#222" stroke="#222" stroke-width="0.18" font-family='"Liberation Sans", sans-serif'>12</text>
<line x1="629.65" y1="597.60" x2="629.65" y2="602.60" stroke="#000" stroke-width="0.9"/>
<text x="629.65" y="614.80" font-size="7.7" text-anchor="middle" fill="#222" stroke="#222" stroke-width="0.18" font-family='"Liberation Sans", sans-serif'>14</text>
<text x="398.40" y="523.30" font-size="7.9" text-anchor="middle" fill="#222" stroke="#222" stroke-width="0.18" font-family='"Liberation Sans", sans-serif' transform="rotate(-90 398.40 523.30)">5 x CV Error</text>
<text x="540.65" y="633.40" font-size="7.8" text-anchor="middle" fill="#222" stroke="#222" stroke-width="0.18" font-family='"Liberation Sans", sans-serif'>Number of Features</text>
<polyline points="436.60,453.99 451.45,546.45 466.30,569.57 481.15,551.97 496.00,592.44 510.85,575.43 525.70,580.95 540.55,580.95 555.40,580.95 570.25,563.70 585.10,569.57 599.95,575.43 614.80,575.43 629.65,575.43 644.50,575.43" fill="none" stroke="#3a80c3" stroke-width="2.7" stroke-linejoin="round" stroke-linecap="round"/>
<circle cx="496.00" cy="592.44" r="1.9" fill="none" stroke="#e0303a" stroke-width="1.0"/>
<text x="490.80" y="594.00" font-size="9.0" text-anchor="end" fill="#e8303a" stroke="#e8303a" stroke-width="0.18" font-family='"Liberation Sans", sans-serif'>5 − 0.00167</text>
<rect x="428.50" y="448.60" width="224.90" height="149.00" fill="none" stroke="#111" stroke-width="1.0"/>
<text x="31.60" y="636.30" font-size="17.5" text-anchor="start" fill="#000" font-family='"Liberation Serif", serif'>G</text>
<line x1="48.90" y1="762.20" x2="43.30" y2="762.20" stroke="#000" stroke-width="0.9"/>
<line x1="48.90" y1="741.30" x2="43.30" y2="741.30" stroke="#000" stroke-width="0.9"/>
<line x1="48.90" y1="720.40" x2="43.30" y2="720.40" stroke="#000" stroke-width="0.9"/>
<line x1="48.90" y1="699.50" x2="43.30" y2="699.50" stroke="#000" stroke-width="0.9"/>
<line x1="48.90" y1="678.60" x2="43.30" y2="678.60" stroke="#000" stroke-width="0.9"/>
<line x1="48.90" y1="657.70" x2="43.30" y2="657.70" stroke="#000" stroke-width="0.9"/>
<text x="34.50" y="762.20" font-size="9.5" text-anchor="middle" fill="#222" stroke="#222" stroke-width="0.18" font-family='"Liberation Sans", sans-serif' transform="rotate(-90 34.50 762.20)">0.00</text>
<text x="34.50" y="720.40" font-size="9.5" text-anchor="middle" fill="#222" stroke="#222" stroke-width="0.18" font-family='"Liberation Sans", sans-serif' transform="rotate(-90 34.50 720.40)">0.04</text>
<text x="34.50" y="678.60" font-size="9.5" text-anchor="middle" fill="#222" stroke="#222" stroke-width="0.18" font-family='"Liberation Sans", sans-serif' transform="rotate(-90 34.50 678.60)">0.08</text>
<line x1="59.20" y1="766.70" x2="59.20" y2="772.30" stroke="#000" stroke-width="0.9"/>
<text x="59.20" y="788.00" font-size="9.5" text-anchor="middle" fill="#222" stroke="#222" stroke-width="0.18" font-family='"Liberation Sans", sans-serif'>0</text>
<line x1="110.56" y1="766.70" x2="110.56" y2="772.30" stroke="#000" stroke-width="0.9"/>
<text x="110.56" y="788.00" font-size="9.5" text-anchor="middle" fill="#222" stroke="#222" stroke-width="0.18" font-family='"Liberation Sans", sans-serif'>200</text>
<line x1="161.92" y1="766.70" x2="161.92" y2="772.30" stroke="#000" stroke-width="0.9"/>
<text x="161.92" y="788.00" font-size="9.5" text-anchor="middle" fill="#222" stroke="#222" stroke-width="0.18" font-family='"Liberation Sans", sans-serif'>400</text>
<line x1="213.28" y1="766.70" x2="213.28" y2="772.30" stroke="#000" stroke-width="0.9"/>
<text x="213.28" y="788.00" font-size="9.5" text-anchor="middle" fill="#222" stroke="#222" stroke-width="0.18" font-family='"Liberation Sans", sans-serif'>600</text>
<line x1="264.64" y1="766.70" x2="264.64" y2="772.30" stroke="#000" stroke-width="0.9"/>
<text x="264.64" y="788.00" font-size="9.5" text-anchor="middle" fill="#222" stroke="#222" stroke-width="0.18" font-family='"Liberation Sans", sans-serif'>800</text>
<line x1="316.00" y1="766.70" x2="316.00" y2="772.30" stroke="#000" stroke-width="0.9"/>
<text x="316.00" y="788.00" font-size="9.5" text-anchor="middle" fill="#222" stroke="#222" stroke-width="0.18" font-family='"Liberation Sans", sans-serif'>1000</text>
<text x="12.40" y="703.60" font-size="9.6" text-anchor="middle" fill="#222" stroke="#222" stroke-width="0.18" font-family='"Liberation Sans", sans-serif' transform="rotate(-90 12.40 703.60)">Error</text>
<text x="187.60" y="811.20" font-size="9.6" text-anchor="middle" fill="#222" stroke="#222" stroke-width="0.18" font-family='"Liberation Sans", sans-serif'>trees</text>
<polyline points="59.20,762.20 59.46,762.20 59.46,650.80 59.71,650.80 59.71,669.20 59.97,669.20 59.97,699.92 60.23,699.92 60.23,669.20 60.48,669.20 60.48,669.20 60.74,669.20 60.74,699.92 61.00,699.92 61.00,699.92 61.25,699.92 61.25,682.88 61.51,682.88 61.51,682.88 61.77,682.88 61.77,708.59 62.02,708.59 62.02,699.92 62.28,699.92 62.28,708.59 62.54,708.59 62.54,682.88 62.80,682.88 62.80,673.38 63.05,673.38 63.05,699.92 63.31,699.92 63.31,691.45 63.57,691.45 63.57,682.88 63.82,682.88 63.82,673.38 64.08,673.38 64.08,708.59 64.34,708.59 64.34,673.38 64.59,673.38 64.59,699.92 64.85,699.92 64.85,726.15 65.11,726.15 65.11,699.92 65.36,699.92 65.36,691.45 65.62,691.45 65.62,691.45 65.88,691.45 65.88,691.45 66.13,691.45 66.13,691.45 66.39,691.45 66.39,699.92 66.65,699.92 66.65,699.92 66.90,699.92 66.90,691.45 67.16,691.45 67.16,699.92 67.42,699.92 67.42,708.59 67.67,708.59 67.67,699.92 67.93,699.92 67.93,699.92 68.19,699.92 68.19,699.92 68.44,699.92 68.44,708.59 68.70,708.59 68.70,699.92 68.96,699.92 68.96,691.45 69.22,691.45 69.22,691.45 69.47,691.45 69.47,699.92 69.73,699.92 69.73,708.59 69.99,708.59 69.99,699.92 70.24,699.92 70.24,691.45 70.50,691.45 70.50,708.59 70.76,708.59 70.76,708.59 71.01,708.59 71.01,699.92 71.27,699.92 71.27,708.59 71.53,708.59 71.53,691.45 71.78,691.45 71.78,691.45 72.04,691.45 72.04,708.59 80.26,708.59 80.26,708.59 80.26,708.59 80.26,691.45 89.50,691.45 89.50,691.45 89.76,691.45 89.76,708.59 90.02,708.59 90.02,682.88 90.27,682.88 90.27,673.38 90.53,673.38 90.53,699.92 90.79,699.92 90.79,673.38 91.04,673.38 91.04,682.88 91.30,682.88 91.30,691.45 91.56,691.45 91.56,699.92 91.81,699.92 91.81,673.38 92.07,673.38 92.07,673.38 92.33,673.38 92.33,682.88 92.58,682.88 92.58,673.38 92.84,673.38 92.84,673.38 93.10,673.38 93.10,691.45 96.44,691.45 96.44,691.45 96.44,691.45 96.44,708.59 96.69,708.59 96.69,691.45 97.98,691.45 97.98,691.45 98.23,691.45 98.23,682.88 98.49,682.88 98.49,682.88 98.75,682.88 98.75,673.38 99.00,673.38 99.00,673.38 99.26,673.38 99.26,673.38 99.52,673.38 99.52,673.38 99.77,673.38 99.77,673.38 100.03,673.38 100.03,673.38 100.29,673.38 100.29,682.88 100.54,682.88 100.54,691.45 105.94,691.45 105.94,691.45 105.94,691.45 105.94,708.59 106.19,708.59 106.19,699.92 106.45,699.92 106.45,691.45 124.17,691.45 124.17,691.45 124.43,691.45 124.43,708.59 124.68,708.59 124.68,699.92 124.94,699.92 124.94,699.92 125.20,699.92 125.20,691.45 125.45,691.45 125.45,699.92 125.71,699.92 125.71,699.92 125.97,699.92 125.97,691.45 126.22,691.45 126.22,699.92 126.48,699.92 126.48,691.45 126.74,691.45 126.74,691.45 127.00,691.45 127.00,691.45 127.25,691.45 127.25,708.59 127.51,708.59 127.51,691.45 127.77,691.45 127.77,691.45 128.02,691.45 128.02,708.59 313.43,708.59 313.43,708.59" fill="none" stroke="#DF536B" stroke-width="1.0" stroke-dasharray="2.4,1.6"/>
<polyline points="59.46,739.21 59.71,742.35 59.97,740.25 60.23,744.44 60.48,746.53 60.74,745.48 61.00,749.66 61.25,748.62 61.51,750.71 61.77,751.23 62.28,752.80 62.80,752.27 63.31,753.84 63.82,753.11 64.34,754.05 65.62,753.74 66.90,754.68 69.47,755.09 80.26,755.09 80.51,753.42 89.50,753.42 90.53,750.71 91.30,753.32 92.07,750.18 92.84,754.05 93.61,749.66 95.15,752.27 97.21,751.96 98.23,753.32 105.42,753.42 105.94,755.30 106.71,753.42 124.17,753.42 124.94,754.88 125.71,754.05 127.00,755.30 274.91,755.30 275.43,753.32 291.60,753.32 292.89,755.30 294.17,754.68 294.94,755.72 305.73,755.72 306.24,754.68 306.76,755.72 312.15,755.72 312.92,754.05 313.95,755.41 314.72,754.36 316.00,754.36" fill="none" stroke="#000" stroke-width="1.3" stroke-linejoin="round"/>
<polyline points="59.46,753.84 59.97,757.50 60.74,758.54 61.77,759.59 66.90,759.80 88.73,759.80 91.30,758.54 92.58,757.60 94.64,759.07 96.44,758.44 98.23,759.90 274.91,759.90 276.20,758.54 291.60,758.54 292.89,760.11 316.00,760.11" fill="none" stroke="#61D04F" stroke-width="1.0" stroke-dasharray="0.9,2.6"/>
<rect x="48.90" y="640.50" width="277.80" height="126.20" fill="none" stroke="#111" stroke-width="1.0"/>
<text x="378.00" y="636.40" font-size="17.5" text-anchor="start" fill="#000" font-family='"Liberation Serif", serif'>H</text>
<line x1="398.50" y1="648.00" x2="682.30" y2="648.00" stroke="#c0c0c0" stroke-width="0.8" stroke-dasharray="0.8,2.2"/>
<text x="387.80" y="650.20" font-size="6.4" text-anchor="end" fill="#222" stroke="#222" stroke-width="0.18" font-family='"Liberation Serif", serif'>CAT</text>
<circle cx="673.12" cy="648.00" r="1.9" fill="#fff" stroke="#222" stroke-width="1.15"/>
<line x1="398.50" y1="656.76" x2="682.30" y2="656.76" stroke="#c0c0c0" stroke-width="0.8" stroke-dasharray="0.8,2.2"/>
<text x="387.80" y="658.96" font-size="6.4" text-anchor="end" fill="#222" stroke="#222" stroke-width="0.18" font-family='"Liberation Serif", serif'>DPYSL2</text>
<circle cx="542.44" cy="656.76" r="1.9" fill="#fff" stroke="#222" stroke-width="1.15"/>
<line x1="398.50" y1="665.53" x2="682.30" y2="665.53" stroke="#c0c0c0" stroke-width="0.8" stroke-dasharray="0.8,2.2"/>
<text x="387.80" y="667.73" font-size="6.4" text-anchor="end" fill="#222" stroke="#222" stroke-width="0.18" font-family='"Liberation Serif", serif'>KLF4</text>
<circle cx="499.24" cy="665.53" r="1.9" fill="#fff" stroke="#222" stroke-width="1.15"/>
<line x1="398.50" y1="674.29" x2="682.30" y2="674.29" stroke="#c0c0c0" stroke-width="0.8" stroke-dasharray="0.8,2.2"/>
<text x="387.80" y="676.49" font-size="6.4" text-anchor="end" fill="#222" stroke="#222" stroke-width="0.18" font-family='"Liberation Serif", serif'>RTN1</text>
<circle cx="489.21" cy="674.29" r="1.9" fill="#fff" stroke="#222" stroke-width="1.15"/>
<line x1="398.50" y1="683.06" x2="682.30" y2="683.06" stroke="#c0c0c0" stroke-width="0.8" stroke-dasharray="0.8,2.2"/>
<text x="387.80" y="685.26" font-size="6.4" text-anchor="end" fill="#222" stroke="#222" stroke-width="0.18" font-family='"Liberation Serif", serif'>TUBB6</text>
<circle cx="485.44" cy="683.06" r="1.9" fill="#fff" stroke="#222" stroke-width="1.15"/>
<line x1="398.50" y1="691.82" x2="682.30" y2="691.82" stroke="#c0c0c0" stroke-width="0.8" stroke-dasharray="0.8,2.2"/>
<text x="387.80" y="694.02" font-size="6.4" text-anchor="end" fill="#222" stroke="#222" stroke-width="0.18" font-family='"Liberation Serif", serif'>ALDH2</text>
<circle cx="482.26" cy="691.82" r="1.9" fill="#fff" stroke="#222" stroke-width="1.15"/>
<line x1="398.50" y1="700.58" x2="682.30" y2="700.58" stroke="#c0c0c0" stroke-width="0.8" stroke-dasharray="0.8,2.2"/>
<text x="387.80" y="702.78" font-size="6.4" text-anchor="end" fill="#222" stroke="#222" stroke-width="0.18" font-family='"Liberation Serif", serif'>ARRB1</text>
<circle cx="480.28" cy="700.58" r="1.9" fill="#fff" stroke="#222" stroke-width="1.15"/>
<line x1="398.50" y1="709.35" x2="682.30" y2="709.35" stroke="#c0c0c0" stroke-width="0.8" stroke-dasharray="0.8,2.2"/>
<text x="387.80" y="711.55" font-size="6.4" text-anchor="end" fill="#222" stroke="#222" stroke-width="0.18" font-family='"Liberation Serif", serif'>PPARG</text>
<circle cx="461.31" cy="709.35" r="1.9" fill="#fff" stroke="#222" stroke-width="1.15"/>
<line x1="398.50" y1="718.11" x2="682.30" y2="718.11" stroke="#c0c0c0" stroke-width="0.8" stroke-dasharray="0.8,2.2"/>
<text x="387.80" y="720.31" font-size="6.4" text-anchor="end" fill="#222" stroke="#222" stroke-width="0.18" font-family='"Liberation Serif", serif'>FBP1</text>
<circle cx="452.08" cy="718.11" r="1.9" fill="#fff" stroke="#222" stroke-width="1.15"/>
<line x1="398.50" y1="726.88" x2="682.30" y2="726.88" stroke="#c0c0c0" stroke-width="0.8" stroke-dasharray="0.8,2.2"/>
<text x="387.80" y="729.08" font-size="6.4" text-anchor="end" fill="#222" stroke="#222" stroke-width="0.18" font-family='"Liberation Serif", serif'>CCT5</text>
<circle cx="448.60" cy="726.88" r="1.9" fill="#fff" stroke="#222" stroke-width="1.15"/>
<line x1="398.50" y1="735.64" x2="682.30" y2="735.64" stroke="#c0c0c0" stroke-width="0.8" stroke-dasharray="0.8,2.2"/>
<text x="387.80" y="737.84" font-size="6.4" text-anchor="end" fill="#222" stroke="#222" stroke-width="0.18" font-family='"Liberation Serif", serif'>NUPR1</text>
<circle cx="434.20" cy="735.64" r="1.9" fill="#fff" stroke="#222" stroke-width="1.15"/>
<line x1="398.50" y1="744.40" x2="682.30" y2="744.40" stroke="#c0c0c0" stroke-width="0.8" stroke-dasharray="0.8,2.2"/>
<text x="387.80" y="746.60" font-size="6.4" text-anchor="end" fill="#222" stroke="#222" stroke-width="0.18" font-family='"Liberation Serif", serif'>TFRC</text>
<circle cx="427.75" cy="744.40" r="1.9" fill="#fff" stroke="#222" stroke-width="1.15"/>
<line x1="398.50" y1="753.17" x2="682.30" y2="753.17" stroke="#c0c0c0" stroke-width="0.8" stroke-dasharray="0.8,2.2"/>
<text x="387.80" y="755.37" font-size="6.4" text-anchor="end" fill="#222" stroke="#222" stroke-width="0.18" font-family='"Liberation Serif", serif'>EIF4EBP1</text>
<circle cx="426.06" cy="753.17" r="1.9" fill="#fff" stroke="#222" stroke-width="1.15"/>
<line x1="398.50" y1="761.93" x2="682.30" y2="761.93" stroke="#c0c0c0" stroke-width="0.8" stroke-dasharray="0.8,2.2"/>
<text x="387.80" y="764.13" font-size="6.4" text-anchor="end" fill="#222" stroke="#222" stroke-width="0.18" font-family='"Liberation Serif", serif'>CHML</text>
<circle cx="423.97" cy="761.93" r="1.9" fill="#fff" stroke="#222" stroke-width="1.15"/>
<line x1="398.50" y1="770.70" x2="682.30" y2="770.70" stroke="#c0c0c0" stroke-width="0.8" stroke-dasharray="0.8,2.2"/>
<text x="387.80" y="772.90" font-size="6.4" text-anchor="end" fill="#222" stroke="#222" stroke-width="0.18" font-family='"Liberation Serif", serif'>KNSTRN</text>
<circle cx="420.30" cy="770.70" r="1.9" fill="#fff" stroke="#222" stroke-width="1.15"/>
<line x1="406.00" y1="779.40" x2="406.00" y2="783.80" stroke="#000" stroke-width="0.9"/>
<text x="406.00" y="796.00" font-size="7.2" text-anchor="middle" fill="#222" stroke="#222" stroke-width="0.18" font-family='"Liberation Sans", sans-serif'>0</text>
<line x1="455.65" y1="779.40" x2="455.65" y2="783.80" stroke="#000" stroke-width="0.9"/>
<text x="455.65" y="796.00" font-size="7.2" text-anchor="middle" fill="#222" stroke="#222" stroke-width="0.18" font-family='"Liberation Sans", sans-serif'>5</text>
<line x1="505.30" y1="779.40" x2="505.30" y2="783.80" stroke="#000" stroke-width="0.9"/>
<text x="505.30" y="796.00" font-size="7.2" text-anchor="middle" fill="#222" stroke="#222" stroke-width="0.18" font-family='"Liberation Sans", sans-serif'>10</text>
<line x1="554.95" y1="779.40" x2="554.95" y2="783.80" stroke="#000" stroke-width="0.9"/>
<text x="554.95" y="796.00" font-size="7.2" text-anchor="middle" fill="#222" stroke="#222" stroke-width="0.18" font-family='"Liberation Sans", sans-serif'>15</text>
<line x1="604.60" y1="779.40" x2="604.60" y2="783.80" stroke="#000" stroke-width="0.9"/>
<text x="604.60" y="796.00" font-size="7.2" text-anchor="middle" fill="#222" stroke="#222" stroke-width="0.18" font-family='"Liberation Sans", sans-serif'>20</text>
<line x1="654.25" y1="779.40" x2="654.25" y2="783.80" stroke="#000" stroke-width="0.9"/>
<text x="654.25" y="796.00" font-size="7.2" text-anchor="middle" fill="#222" stroke="#222" stroke-width="0.18" font-family='"Liberation Sans", sans-serif'>25</text>
<text x="539.80" y="813.30" font-size="7.1" text-anchor="middle" fill="#222" stroke="#222" stroke-width="0.18" font-family='"Liberation Sans", sans-serif'>MeanDecreaseGini</text>
<rect x="395.50" y="639.20" width="288.80" height="140.20" fill="none" stroke="#111" stroke-width="1.0"/>
<text x="257.00" y="820.30" font-size="17.5" text-anchor="start" fill="#000" font-family='"Liberation Serif", serif'>I</text>
<defs><clipPath id="cA"><circle cx="311.7" cy="881.5" r="47.1" fill="#000"/></clipPath><clipPath id="cB"><circle cx="375.2" cy="881.5" r="47.2" fill="#000"/></clipPath></defs>
<circle cx="311.7" cy="881.5" r="47.1" fill="#EBA69C"/>
<circle cx="375.2" cy="881.5" r="47.2" fill="#A3D8E4"/>
<circle cx="343.2" cy="940.6" r="47.4" fill="#EAEAA8"/>
<g clip-path="url(#cA)"><circle cx="375.2" cy="881.5" r="47.2" fill="#B0B5AE"/><circle cx="343.2" cy="940.6" r="47.4" fill="#E4C475"/></g>
<g clip-path="url(#cB)"><circle cx="343.2" cy="940.6" r="47.4" fill="#C9DAA3"/></g>
<g clip-path="url(#cA)"><g clip-path="url(#cB)"><circle cx="343.2" cy="940.6" r="47.4" fill="#C6C98C"/></g></g>
<text x="305.50" y="826.00" font-size="9" text-anchor="middle" fill="#222" stroke="#222" stroke-width="0.18" font-family='"Liberation Sans", sans-serif'>LASSO</text>
<text x="381.10" y="826.00" font-size="9" text-anchor="middle" fill="#222" stroke="#222" stroke-width="0.18" font-family='"Liberation Sans", sans-serif'>SVM−REF</text>
<text x="343.10" y="1002.40" font-size="9" text-anchor="middle" fill="#222" stroke="#222" stroke-width="0.18" font-family='"Liberation Sans", sans-serif'>RandomForest</text>
<text x="305.50" y="884.00" font-size="6.6" text-anchor="middle" fill="#2a2a2a" stroke="#2a2a2a" stroke-width="0.18" font-family='"Liberation Sans", sans-serif'>3</text>
<text x="343.10" y="875.00" font-size="6.6" text-anchor="middle" fill="#2a2a2a" stroke="#2a2a2a" stroke-width="0.18" font-family='"Liberation Sans", sans-serif'>3</text>
<text x="381.10" y="884.00" font-size="6.6" text-anchor="middle" fill="#2a2a2a" stroke="#2a2a2a" stroke-width="0.18" font-family='"Liberation Sans", sans-serif'>0</text>
<text x="343.10" y="903.60" font-size="6.6" text-anchor="middle" fill="#2a2a2a" stroke="#2a2a2a" stroke-width="0.18" font-family='"Liberation Sans", sans-serif'>2</text>
<text x="319.40" y="913.40" font-size="6.6" text-anchor="middle" fill="#2a2a2a" stroke="#2a2a2a" stroke-width="0.18" font-family='"Liberation Sans", sans-serif'>0</text>
<text x="366.80" y="913.40" font-size="6.6" text-anchor="middle" fill="#2a2a2a" stroke="#2a2a2a" stroke-width="0.18" font-family='"Liberation Sans", sans-serif'>0</text>
<text x="343.10" y="942.40" font-size="6.6" text-anchor="middle" fill="#2a2a2a" stroke="#2a2a2a" stroke-width="0.18" font-family='"Liberation Sans", sans-serif'>3</text>
</svg>
</body></html>
